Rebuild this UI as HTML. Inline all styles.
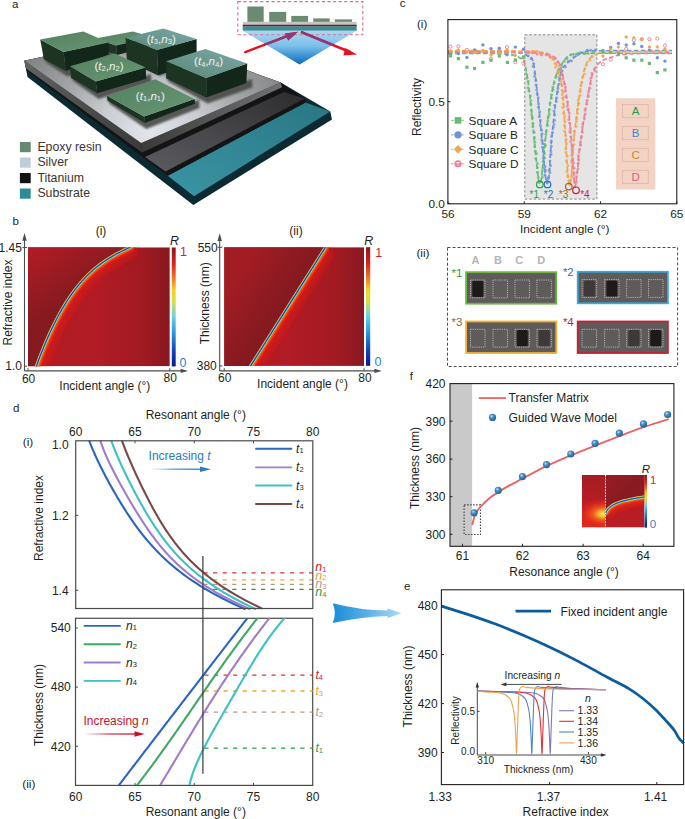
<!DOCTYPE html>
<html><head><meta charset="utf-8"><style>
html,body{margin:0;padding:0;background:#fff;width:685px;height:819px;overflow:hidden}
svg{display:block;font-family:"Liberation Sans",sans-serif}
</style></head><body>
<svg width="685" height="819" viewBox="0 0 685 819">
<defs><radialGradient id="gSilverTop" cx="150" cy="132" r="150" gradientUnits="userSpaceOnUse" gradientTransform="translate(150,132) scale(1.1,0.9) translate(-150,-132)"><stop offset="0" stop-color="#e2e6ea"/><stop offset="0.3" stop-color="#cacdd1"/><stop offset="0.6" stop-color="#a2a3a5"/><stop offset="1" stop-color="#7a7a7b"/></radialGradient><linearGradient id="gSilverSideL" x1="0" y1="0" x2="1" y2="0"><stop offset="0" stop-color="#626262"/><stop offset="1" stop-color="#3a3a3a"/></linearGradient><linearGradient id="gSilverSideR" x1="0" y1="0" x2="1" y2="0"><stop offset="0" stop-color="#3a3a3a"/><stop offset="1" stop-color="#707274"/></linearGradient><linearGradient id="gTiTop" x1="0" y1="1" x2="1" y2="0"><stop offset="0" stop-color="#5c5c60"/><stop offset="0.45" stop-color="#48484c"/><stop offset="1" stop-color="#2c2c2e"/></linearGradient><linearGradient id="gSubTop" x1="0" y1="1" x2="1" y2="0"><stop offset="0" stop-color="#3a95a4"/><stop offset="1" stop-color="#2a7684"/></linearGradient><linearGradient id="gTopGreen" x1="0" y1="0" x2="1" y2="1"><stop offset="0" stop-color="#54805e"/><stop offset="1" stop-color="#679777"/></linearGradient><linearGradient id="gTopTeal" x1="0" y1="1" x2="1" y2="0"><stop offset="0" stop-color="#5a8874"/><stop offset="0.6" stop-color="#6e9a94"/><stop offset="1" stop-color="#80a8a8"/></linearGradient><linearGradient id="gPrism" x1="0" y1="0" x2="0" y2="1"><stop offset="0" stop-color="#a8d8f4"/><stop offset="0.45" stop-color="#7cc0ec"/><stop offset="1" stop-color="#0a6cbc"/></linearGradient><linearGradient id="gArrowBig" x1="0" y1="0" x2="1" y2="0"><stop offset="0" stop-color="#1a8cd8"/><stop offset="0.5" stop-color="#58b0e4"/><stop offset="1" stop-color="#b0dcf4"/></linearGradient><linearGradient id="gArrowT" x1="0" y1="0" x2="1" y2="0"><stop offset="0" stop-color="#2a7ac8" stop-opacity="0"/><stop offset="0.5" stop-color="#2a7ac8" stop-opacity="0.8"/><stop offset="1" stop-color="#2a7ac8"/></linearGradient><linearGradient id="gArrowN" x1="0" y1="0" x2="1" y2="0"><stop offset="0" stop-color="#c8102e" stop-opacity="0"/><stop offset="0.5" stop-color="#c8102e" stop-opacity="0.8"/><stop offset="1" stop-color="#c8102e"/></linearGradient><linearGradient id="gJet" x1="0" y1="1" x2="0" y2="0"><stop offset="0" stop-color="#0a1a8c"/><stop offset="0.12" stop-color="#1040b8"/><stop offset="0.3" stop-color="#30a0e0"/><stop offset="0.42" stop-color="#70d0e0"/><stop offset="0.55" stop-color="#d8e040"/><stop offset="0.64" stop-color="#f8d020"/><stop offset="0.75" stop-color="#f07020"/><stop offset="0.86" stop-color="#e02018"/><stop offset="1" stop-color="#8c1420"/></linearGradient><filter id="blur2" x="-20%" y="-20%" width="140%" height="140%"><feGaussianBlur stdDeviation="2.2"/></filter><filter id="blur4" x="-30%" y="-30%" width="160%" height="160%"><feGaussianBlur stdDeviation="4"/></filter><filter id="blur1" x="-20%" y="-20%" width="140%" height="140%"><feGaussianBlur stdDeviation="0.9"/></filter><radialGradient id="gSphere" cx="0.38" cy="0.35" r="0.7"><stop offset="0" stop-color="#c0e0f8"/><stop offset="0.35" stop-color="#4a90c8"/><stop offset="1" stop-color="#1a5a90"/></radialGradient></defs>
<text x="12.0" y="7.5" font-size="11.5" text-anchor="start" fill="#231f20" >a</text>
<polygon points="24.4,60.7 27.5,77.0 193.3,205.0 332.0,119.4 330.3,111.4 280.6,82.5 147.0,34.3" fill="#0b2a31" />
<polygon points="167.7,175.8 194.0,196.2 330.3,111.4 305.6,102.4" fill="url(#gSubTop)" />
<polygon points="24.4,60.7 26.6,70.4 167.7,175.8 305.6,102.4 304.7,98.5 280.6,82.5 147.0,34.3" fill="#141414" />
<polygon points="145.0,157.0 165.5,171.4 304.7,98.5 284.0,92.0" fill="url(#gTiTop)" />
<polygon points="24.4,60.7 141.2,142.9 142.0,152.6 25.8,68.2" fill="url(#gSilverSideL)" />
<polygon points="141.2,142.9 280.6,82.5 282.0,87.3 142.0,152.6" fill="url(#gSilverSideR)" />
<polygon points="24.4,60.7 147.0,34.3 280.6,82.5 141.2,142.9" fill="url(#gSilverTop)" />
<g filter="url(#blur1)" opacity="0.9">
<polygon points="42.9,56.3 46.4,62.8 67.5,76.5 113.5,58.5 113.0,50.0 66.0,67.0" fill="#4a4a4a" />
<polygon points="70.0,74.7 73.5,81.2 98.7,99.0 151.5,82.5 151.0,74.0 97.2,89.5" fill="#4a4a4a" />
<polygon points="106.5,97.5 110.0,104.0 146.3,129.0 199.5,108.0 199.0,99.5 144.8,119.5" fill="#4a4a4a" />
<polygon points="165.1,75.2 168.6,81.7 207.7,103.5 252.5,87.5 252.0,79.0 206.2,94.0" fill="#4a4a4a" />
<polygon points="126.0,53.5 129.5,60.0 159.9,76.0 201.5,60.5 201.0,52.0 158.4,66.5" fill="#4a4a4a" />
</g>
<polygon points="94.0,38.8 116.0,45.5 117.0,55.0 95.0,47.0" fill="#1c3421" />
<polygon points="116.0,45.5 152.0,37.0 152.0,46.0 117.0,55.0" fill="#13261a" />
<polygon points="94.0,38.8 132.8,31.5 152.0,37.0 116.0,45.5" fill="url(#gTopGreen)" />
<polygon points="40.2,39.6 63.6,52.0 65.8,71.0 43.9,59.3" fill="#1c3421" />
<polygon points="63.6,52.0 108.8,42.5 108.8,54.6 65.8,71.0" fill="#13261a" />
<polygon points="40.2,39.6 83.3,31.6 108.8,42.5 63.6,52.0" fill="url(#gTopGreen)" />
<polygon points="125.5,37.7 157.0,49.9 157.9,75.3 127.0,61.0" fill="#1c3421" />
<polygon points="157.0,49.9 196.6,39.0 196.6,63.0 157.9,75.3" fill="#13261a" />
<polygon points="125.5,37.7 163.5,28.5 196.6,39.0 157.0,49.9" fill="url(#gTopTeal)" />
<polygon points="69.9,66.3 95.8,81.6 97.2,93.3 71.0,77.7" fill="#1c3421" />
<polygon points="95.8,81.6 145.8,67.4 146.1,78.7 97.2,93.3" fill="#13261a" />
<polygon points="69.9,66.3 114.7,53.4 145.8,67.4 95.8,81.6" fill="url(#gTopGreen)" />
<polygon points="166.1,61.3 206.2,77.9 206.2,97.4 166.1,78.2" fill="#1c3421" />
<polygon points="206.2,77.9 247.2,63.4 246.4,83.0 206.2,97.4" fill="#13261a" />
<polygon points="166.1,61.3 205.4,49.0 247.2,63.4 206.2,77.9" fill="url(#gTopTeal)" />
<polygon points="107.0,95.7 144.0,116.6 144.8,123.0 107.5,100.5" fill="#1c3421" />
<polygon points="144.0,116.6 194.6,98.9 194.9,103.7 144.8,123.0" fill="#13261a" />
<polygon points="107.0,95.7 155.2,79.2 194.6,98.9 144.0,116.6" fill="url(#gTopGreen)" />
<text x="109" y="70" font-size="11.6" text-anchor="middle" fill="#eef2ee">(<tspan font-style="italic">t</tspan><tspan font-size="7.6" dy="1.2">2</tspan><tspan dy="-1.2">,</tspan><tspan font-style="italic">n</tspan><tspan font-size="7.6" dy="1.2">2</tspan><tspan dy="-1.2">)</tspan></text>
<text x="161.3" y="43" font-size="11.6" text-anchor="middle" fill="#eef2ee">(<tspan font-style="italic">t</tspan><tspan font-size="7.6" dy="1.2">3</tspan><tspan dy="-1.2">,</tspan><tspan font-style="italic">n</tspan><tspan font-size="7.6" dy="1.2">3</tspan><tspan dy="-1.2">)</tspan></text>
<text x="208.6" y="65.3" font-size="11.6" text-anchor="middle" fill="#eef2ee">(<tspan font-style="italic">t</tspan><tspan font-size="7.6" dy="1.2">4</tspan><tspan dy="-1.2">,</tspan><tspan font-style="italic">n</tspan><tspan font-size="7.6" dy="1.2">4</tspan><tspan dy="-1.2">)</tspan></text>
<text x="150.4" y="99.7" font-size="11.6" text-anchor="middle" fill="#eef2ee">(<tspan font-style="italic">t</tspan><tspan font-size="7.6" dy="1.2">1</tspan><tspan dy="-1.2">,</tspan><tspan font-style="italic">n</tspan><tspan font-size="7.6" dy="1.2">1</tspan><tspan dy="-1.2">)</tspan></text>
<rect x="19.90" y="142.00" width="10.80" height="10.20" fill="#678a74" stroke="none" stroke-width="1" />
<text x="37.4" y="150.6" font-size="12.3" text-anchor="start" fill="#3a3434" >Epoxy resin</text>
<rect x="19.90" y="157.50" width="10.80" height="10.20" fill="#c0ccd8" stroke="none" stroke-width="1" />
<text x="37.4" y="166.1" font-size="12.3" text-anchor="start" fill="#3a3434" >Silver</text>
<rect x="19.90" y="173.00" width="10.80" height="10.20" fill="#121212" stroke="none" stroke-width="1" />
<text x="37.4" y="181.6" font-size="12.3" text-anchor="start" fill="#3a3434" >Titanium</text>
<rect x="19.90" y="188.50" width="10.80" height="10.20" fill="#2e8a96" stroke="none" stroke-width="1" />
<text x="37.4" y="197.1" font-size="12.3" text-anchor="start" fill="#3a3434" >Substrate</text>
<polygon points="242.7,30.7 356.7,30.7 299.5,64.4" fill="url(#gPrism)" />
<rect x="247.40" y="6.50" width="16.30" height="15.40" fill="#6a8a72" stroke="none" stroke-width="1" />
<rect x="269.20" y="11.90" width="17.00" height="10.00" fill="#6a8a72" stroke="none" stroke-width="1" />
<rect x="291.30" y="15.90" width="16.80" height="6.00" fill="#6a8a72" stroke="none" stroke-width="1" />
<rect x="313.20" y="18.40" width="16.50" height="3.50" fill="#6a8a72" stroke="none" stroke-width="1" />
<rect x="334.80" y="19.40" width="17.20" height="2.50" fill="#6a8a72" stroke="none" stroke-width="1" />
<rect x="242.70" y="21.90" width="114.00" height="2.80" fill="#c4c4c4" stroke="none" stroke-width="1" />
<rect x="242.70" y="24.70" width="114.00" height="1.90" fill="#4a2a22" stroke="none" stroke-width="1" />
<rect x="242.70" y="26.60" width="114.00" height="4.10" fill="#3a8c9c" stroke="none" stroke-width="1" />
<rect x="237.80" y="1.60" width="125.00" height="33.10" fill="none" stroke="#e07080" stroke-width="1.1" stroke-dasharray="3.2,2.4"/>
<g stroke="#e8101e" stroke-width="2.5" fill="none" stroke-linecap="round" opacity="1">
<path d="M245.3,52.1 L291,34.6"/><path d="M302,32.4 L350,52"/>
</g>
<polygon points="298.0,31.8 285.0,33.6 288.2,40.4" fill="#e8101e" opacity="1"/>
<polygon points="357.0,54.6 345.2,48.0 343.4,55.4" fill="#e8101e" opacity="1"/>
<clipPath id="clipPrism"><polygon points="242.7,30.7 356.7,30.7 299.5,64.4"/></clipPath>
<g clip-path="url(#clipPrism)">
<g stroke="#8c3a78" stroke-width="2.5" fill="none" stroke-linecap="round" opacity="0.95">
<path d="M245.3,52.1 L291,34.6"/><path d="M302,32.4 L350,52"/>
</g>
<polygon points="298.0,31.8 285.0,33.6 288.2,40.4" fill="#8c3a78" opacity="0.95"/>
<polygon points="357.0,54.6 345.2,48.0 343.4,55.4" fill="#8c3a78" opacity="0.95"/>
</g>
<text x="12.4" y="224.7" font-size="11.5" text-anchor="start" fill="#231f20" >b</text>
<clipPath id="clipbi"><rect x="28" y="247.3" width="141.8" height="119.0"/></clipPath>
<linearGradient id="gBasebi" x1="0" y1="0" x2="1" y2="0"><stop offset="0" stop-color="#b41c24"/><stop offset="0.45" stop-color="#b21c26"/><stop offset="0.8" stop-color="#a21a22"/><stop offset="1" stop-color="#881820"/></linearGradient>
<linearGradient id="gLeftbi" gradientUnits="userSpaceOnUse" x1="28" y1="247" x2="64" y2="302"><stop offset="0" stop-color="#b41c24"/><stop offset="1" stop-color="#861a20"/></linearGradient>
<clipPath id="clipRbi"><path d="M35.60,368.26 L36.83,364.85 L38.05,361.52 L39.28,358.26 L40.51,355.06 L41.73,351.94 L42.96,348.88 L44.19,345.88 L45.41,342.95 L46.64,340.09 L47.87,337.28 L49.09,334.54 L50.32,331.87 L51.55,329.25 L52.77,326.69 L54.00,324.19 L55.23,321.75 L56.45,319.36 L57.68,317.03 L58.91,314.76 L60.13,312.54 L61.36,310.38 L62.58,308.26 L63.81,306.20 L65.04,304.19 L66.26,302.23 L67.49,300.32 L68.72,298.46 L69.94,296.64 L71.17,294.87 L72.40,293.15 L73.62,291.47 L74.85,289.83 L76.08,288.24 L77.30,286.69 L78.53,285.18 L79.76,283.71 L80.98,282.28 L82.21,280.89 L83.44,279.53 L84.66,278.22 L85.89,276.94 L87.12,275.69 L88.34,274.48 L89.57,273.30 L90.80,272.15 L92.02,271.03 L93.25,269.95 L94.48,268.89 L95.70,267.87 L96.93,266.87 L98.16,265.90 L99.38,264.95 L100.61,264.03 L101.84,263.13 L103.06,262.26 L104.29,261.41 L105.52,260.58 L106.74,259.77 L107.97,258.98 L109.19,258.21 L110.42,257.46 L111.65,256.73 L112.87,256.01 L114.10,255.31 L115.33,254.62 L116.55,253.95 L117.78,253.29 L119.01,252.64 L120.23,252.00 L121.46,251.37 L122.69,250.75 L123.91,250.14 L125.14,249.54 L126.37,248.95 L127.59,248.36 L128.82,247.77 L130.05,247.19 L131.27,246.61 L132.50,246.04 L132.5,239.3 L177.8,239.3 L177.8,374.3 L35.6,374.3 Z"/></clipPath>
<g clip-path="url(#clipbi)">
<rect x="28.00" y="247.30" width="141.80" height="119.00" fill="url(#gBasebi)" stroke="none" stroke-width="1" />
<g clip-path="url(#clipRbi)">
<path d="M35.60,368.26 L36.83,364.85 L38.05,361.52 L39.28,358.26 L40.51,355.06 L41.73,351.94 L42.96,348.88 L44.19,345.88 L45.41,342.95 L46.64,340.09 L47.87,337.28 L49.09,334.54 L50.32,331.87 L51.55,329.25 L52.77,326.69 L54.00,324.19 L55.23,321.75 L56.45,319.36 L57.68,317.03 L58.91,314.76 L60.13,312.54 L61.36,310.38 L62.58,308.26 L63.81,306.20 L65.04,304.19 L66.26,302.23 L67.49,300.32 L68.72,298.46 L69.94,296.64 L71.17,294.87 L72.40,293.15 L73.62,291.47 L74.85,289.83 L76.08,288.24 L77.30,286.69 L78.53,285.18 L79.76,283.71 L80.98,282.28 L82.21,280.89 L83.44,279.53 L84.66,278.22 L85.89,276.94 L87.12,275.69 L88.34,274.48 L89.57,273.30 L90.80,272.15 L92.02,271.03 L93.25,269.95 L94.48,268.89 L95.70,267.87 L96.93,266.87 L98.16,265.90 L99.38,264.95 L100.61,264.03 L101.84,263.13 L103.06,262.26 L104.29,261.41 L105.52,260.58 L106.74,259.77 L107.97,258.98 L109.19,258.21 L110.42,257.46 L111.65,256.73 L112.87,256.01 L114.10,255.31 L115.33,254.62 L116.55,253.95 L117.78,253.29 L119.01,252.64 L120.23,252.00 L121.46,251.37 L122.69,250.75 L123.91,250.14 L125.14,249.54 L126.37,248.95 L127.59,248.36 L128.82,247.77 L130.05,247.19 L131.27,246.61 L132.50,246.04" stroke="#dc1a18" stroke-width="18" fill="none" filter="url(#blur4)" opacity="0.85"/>
<path d="M35.60,368.26 L36.83,364.85 L38.05,361.52 L39.28,358.26 L40.51,355.06 L41.73,351.94 L42.96,348.88 L44.19,345.88 L45.41,342.95 L46.64,340.09 L47.87,337.28 L49.09,334.54 L50.32,331.87 L51.55,329.25 L52.77,326.69 L54.00,324.19 L55.23,321.75 L56.45,319.36 L57.68,317.03 L58.91,314.76 L60.13,312.54 L61.36,310.38 L62.58,308.26 L63.81,306.20 L65.04,304.19 L66.26,302.23 L67.49,300.32 L68.72,298.46 L69.94,296.64 L71.17,294.87 L72.40,293.15 L73.62,291.47 L74.85,289.83 L76.08,288.24 L77.30,286.69 L78.53,285.18 L79.76,283.71 L80.98,282.28 L82.21,280.89 L83.44,279.53 L84.66,278.22 L85.89,276.94 L87.12,275.69 L88.34,274.48 L89.57,273.30 L90.80,272.15 L92.02,271.03 L93.25,269.95 L94.48,268.89 L95.70,267.87 L96.93,266.87 L98.16,265.90 L99.38,264.95 L100.61,264.03 L101.84,263.13 L103.06,262.26 L104.29,261.41 L105.52,260.58 L106.74,259.77 L107.97,258.98 L109.19,258.21 L110.42,257.46 L111.65,256.73 L112.87,256.01 L114.10,255.31 L115.33,254.62 L116.55,253.95 L117.78,253.29 L119.01,252.64 L120.23,252.00 L121.46,251.37 L122.69,250.75 L123.91,250.14 L125.14,249.54 L126.37,248.95 L127.59,248.36 L128.82,247.77 L130.05,247.19 L131.27,246.61 L132.50,246.04" stroke="#e61e16" stroke-width="8" fill="none" filter="url(#blur2)"/>
<path d="M35.60,368.26 L36.83,364.85 L38.05,361.52 L39.28,358.26 L40.51,355.06 L41.73,351.94 L42.96,348.88 L44.19,345.88 L45.41,342.95 L46.64,340.09 L47.87,337.28 L49.09,334.54 L50.32,331.87 L51.55,329.25 L52.77,326.69 L54.00,324.19 L55.23,321.75 L56.45,319.36 L57.68,317.03 L58.91,314.76 L60.13,312.54 L61.36,310.38 L62.58,308.26 L63.81,306.20 L65.04,304.19 L66.26,302.23 L67.49,300.32 L68.72,298.46 L69.94,296.64 L71.17,294.87 L72.40,293.15 L73.62,291.47 L74.85,289.83 L76.08,288.24 L77.30,286.69 L78.53,285.18 L79.76,283.71 L80.98,282.28 L82.21,280.89 L83.44,279.53 L84.66,278.22 L85.89,276.94 L87.12,275.69 L88.34,274.48 L89.57,273.30 L90.80,272.15 L92.02,271.03 L93.25,269.95 L94.48,268.89 L95.70,267.87 L96.93,266.87 L98.16,265.90 L99.38,264.95 L100.61,264.03 L101.84,263.13 L103.06,262.26 L104.29,261.41 L105.52,260.58 L106.74,259.77 L107.97,258.98 L109.19,258.21 L110.42,257.46 L111.65,256.73 L112.87,256.01 L114.10,255.31 L115.33,254.62 L116.55,253.95 L117.78,253.29 L119.01,252.64 L120.23,252.00 L121.46,251.37 L122.69,250.75 L123.91,250.14 L125.14,249.54 L126.37,248.95 L127.59,248.36 L128.82,247.77 L130.05,247.19 L131.27,246.61 L132.50,246.04" stroke="#f04a1a" stroke-width="5" fill="none" filter="url(#blur1)"/>
<path d="M35.60,368.26 L36.83,364.85 L38.05,361.52 L39.28,358.26 L40.51,355.06 L41.73,351.94 L42.96,348.88 L44.19,345.88 L45.41,342.95 L46.64,340.09 L47.87,337.28 L49.09,334.54 L50.32,331.87 L51.55,329.25 L52.77,326.69 L54.00,324.19 L55.23,321.75 L56.45,319.36 L57.68,317.03 L58.91,314.76 L60.13,312.54 L61.36,310.38 L62.58,308.26 L63.81,306.20 L65.04,304.19 L66.26,302.23 L67.49,300.32 L68.72,298.46 L69.94,296.64 L71.17,294.87 L72.40,293.15 L73.62,291.47 L74.85,289.83 L76.08,288.24 L77.30,286.69 L78.53,285.18 L79.76,283.71 L80.98,282.28 L82.21,280.89 L83.44,279.53 L84.66,278.22 L85.89,276.94 L87.12,275.69 L88.34,274.48 L89.57,273.30 L90.80,272.15 L92.02,271.03 L93.25,269.95 L94.48,268.89 L95.70,267.87 L96.93,266.87 L98.16,265.90 L99.38,264.95 L100.61,264.03 L101.84,263.13 L103.06,262.26 L104.29,261.41 L105.52,260.58 L106.74,259.77 L107.97,258.98 L109.19,258.21 L110.42,257.46 L111.65,256.73 L112.87,256.01 L114.10,255.31 L115.33,254.62 L116.55,253.95 L117.78,253.29 L119.01,252.64 L120.23,252.00 L121.46,251.37 L122.69,250.75 L123.91,250.14 L125.14,249.54 L126.37,248.95 L127.59,248.36 L128.82,247.77 L130.05,247.19 L131.27,246.61 L132.50,246.04" stroke="#f0b030" stroke-width="3.8" fill="none" filter="url(#blur1)"/>
</g>
<path d="M35.60,368.26 L36.83,364.85 L38.05,361.52 L39.28,358.26 L40.51,355.06 L41.73,351.94 L42.96,348.88 L44.19,345.88 L45.41,342.95 L46.64,340.09 L47.87,337.28 L49.09,334.54 L50.32,331.87 L51.55,329.25 L52.77,326.69 L54.00,324.19 L55.23,321.75 L56.45,319.36 L57.68,317.03 L58.91,314.76 L60.13,312.54 L61.36,310.38 L62.58,308.26 L63.81,306.20 L65.04,304.19 L66.26,302.23 L67.49,300.32 L68.72,298.46 L69.94,296.64 L71.17,294.87 L72.40,293.15 L73.62,291.47 L74.85,289.83 L76.08,288.24 L77.30,286.69 L78.53,285.18 L79.76,283.71 L80.98,282.28 L82.21,280.89 L83.44,279.53 L84.66,278.22 L85.89,276.94 L87.12,275.69 L88.34,274.48 L89.57,273.30 L90.80,272.15 L92.02,271.03 L93.25,269.95 L94.48,268.89 L95.70,267.87 L96.93,266.87 L98.16,265.90 L99.38,264.95 L100.61,264.03 L101.84,263.13 L103.06,262.26 L104.29,261.41 L105.52,260.58 L106.74,259.77 L107.97,258.98 L109.19,258.21 L110.42,257.46 L111.65,256.73 L112.87,256.01 L114.10,255.31 L115.33,254.62 L116.55,253.95 L117.78,253.29 L119.01,252.64 L120.23,252.00 L121.46,251.37 L122.69,250.75 L123.91,250.14 L125.14,249.54 L126.37,248.95 L127.59,248.36 L128.82,247.77 L130.05,247.19 L131.27,246.61 L132.50,246.04 L132.5,239.3 L20,239.3 L20,374.3 L35.6,374.3 Z" fill="url(#gLeftbi)"/>
<path d="M35.60,368.26 L36.83,364.85 L38.05,361.52 L39.28,358.26 L40.51,355.06 L41.73,351.94 L42.96,348.88 L44.19,345.88 L45.41,342.95 L46.64,340.09 L47.87,337.28 L49.09,334.54 L50.32,331.87 L51.55,329.25 L52.77,326.69 L54.00,324.19 L55.23,321.75 L56.45,319.36 L57.68,317.03 L58.91,314.76 L60.13,312.54 L61.36,310.38 L62.58,308.26 L63.81,306.20 L65.04,304.19 L66.26,302.23 L67.49,300.32 L68.72,298.46 L69.94,296.64 L71.17,294.87 L72.40,293.15 L73.62,291.47 L74.85,289.83 L76.08,288.24 L77.30,286.69 L78.53,285.18 L79.76,283.71 L80.98,282.28 L82.21,280.89 L83.44,279.53 L84.66,278.22 L85.89,276.94 L87.12,275.69 L88.34,274.48 L89.57,273.30 L90.80,272.15 L92.02,271.03 L93.25,269.95 L94.48,268.89 L95.70,267.87 L96.93,266.87 L98.16,265.90 L99.38,264.95 L100.61,264.03 L101.84,263.13 L103.06,262.26 L104.29,261.41 L105.52,260.58 L106.74,259.77 L107.97,258.98 L109.19,258.21 L110.42,257.46 L111.65,256.73 L112.87,256.01 L114.10,255.31 L115.33,254.62 L116.55,253.95 L117.78,253.29 L119.01,252.64 L120.23,252.00 L121.46,251.37 L122.69,250.75 L123.91,250.14 L125.14,249.54 L126.37,248.95 L127.59,248.36 L128.82,247.77 L130.05,247.19 L131.27,246.61 L132.50,246.04" stroke="#e83818" stroke-width="3.6" fill="none" transform="translate(0.1,0)"/>
<path d="M35.60,368.26 L36.83,364.85 L38.05,361.52 L39.28,358.26 L40.51,355.06 L41.73,351.94 L42.96,348.88 L44.19,345.88 L45.41,342.95 L46.64,340.09 L47.87,337.28 L49.09,334.54 L50.32,331.87 L51.55,329.25 L52.77,326.69 L54.00,324.19 L55.23,321.75 L56.45,319.36 L57.68,317.03 L58.91,314.76 L60.13,312.54 L61.36,310.38 L62.58,308.26 L63.81,306.20 L65.04,304.19 L66.26,302.23 L67.49,300.32 L68.72,298.46 L69.94,296.64 L71.17,294.87 L72.40,293.15 L73.62,291.47 L74.85,289.83 L76.08,288.24 L77.30,286.69 L78.53,285.18 L79.76,283.71 L80.98,282.28 L82.21,280.89 L83.44,279.53 L84.66,278.22 L85.89,276.94 L87.12,275.69 L88.34,274.48 L89.57,273.30 L90.80,272.15 L92.02,271.03 L93.25,269.95 L94.48,268.89 L95.70,267.87 L96.93,266.87 L98.16,265.90 L99.38,264.95 L100.61,264.03 L101.84,263.13 L103.06,262.26 L104.29,261.41 L105.52,260.58 L106.74,259.77 L107.97,258.98 L109.19,258.21 L110.42,257.46 L111.65,256.73 L112.87,256.01 L114.10,255.31 L115.33,254.62 L116.55,253.95 L117.78,253.29 L119.01,252.64 L120.23,252.00 L121.46,251.37 L122.69,250.75 L123.91,250.14 L125.14,249.54 L126.37,248.95 L127.59,248.36 L128.82,247.77 L130.05,247.19 L131.27,246.61 L132.50,246.04" stroke="#f0a020" stroke-width="3.0" fill="none" transform="translate(0.1,0)"/>
<path d="M35.60,368.26 L36.83,364.85 L38.05,361.52 L39.28,358.26 L40.51,355.06 L41.73,351.94 L42.96,348.88 L44.19,345.88 L45.41,342.95 L46.64,340.09 L47.87,337.28 L49.09,334.54 L50.32,331.87 L51.55,329.25 L52.77,326.69 L54.00,324.19 L55.23,321.75 L56.45,319.36 L57.68,317.03 L58.91,314.76 L60.13,312.54 L61.36,310.38 L62.58,308.26 L63.81,306.20 L65.04,304.19 L66.26,302.23 L67.49,300.32 L68.72,298.46 L69.94,296.64 L71.17,294.87 L72.40,293.15 L73.62,291.47 L74.85,289.83 L76.08,288.24 L77.30,286.69 L78.53,285.18 L79.76,283.71 L80.98,282.28 L82.21,280.89 L83.44,279.53 L84.66,278.22 L85.89,276.94 L87.12,275.69 L88.34,274.48 L89.57,273.30 L90.80,272.15 L92.02,271.03 L93.25,269.95 L94.48,268.89 L95.70,267.87 L96.93,266.87 L98.16,265.90 L99.38,264.95 L100.61,264.03 L101.84,263.13 L103.06,262.26 L104.29,261.41 L105.52,260.58 L106.74,259.77 L107.97,258.98 L109.19,258.21 L110.42,257.46 L111.65,256.73 L112.87,256.01 L114.10,255.31 L115.33,254.62 L116.55,253.95 L117.78,253.29 L119.01,252.64 L120.23,252.00 L121.46,251.37 L122.69,250.75 L123.91,250.14 L125.14,249.54 L126.37,248.95 L127.59,248.36 L128.82,247.77 L130.05,247.19 L131.27,246.61 L132.50,246.04" stroke="#e8e040" stroke-width="2.5" fill="none" transform="translate(0.08,0)"/>
<path d="M35.60,368.26 L36.83,364.85 L38.05,361.52 L39.28,358.26 L40.51,355.06 L41.73,351.94 L42.96,348.88 L44.19,345.88 L45.41,342.95 L46.64,340.09 L47.87,337.28 L49.09,334.54 L50.32,331.87 L51.55,329.25 L52.77,326.69 L54.00,324.19 L55.23,321.75 L56.45,319.36 L57.68,317.03 L58.91,314.76 L60.13,312.54 L61.36,310.38 L62.58,308.26 L63.81,306.20 L65.04,304.19 L66.26,302.23 L67.49,300.32 L68.72,298.46 L69.94,296.64 L71.17,294.87 L72.40,293.15 L73.62,291.47 L74.85,289.83 L76.08,288.24 L77.30,286.69 L78.53,285.18 L79.76,283.71 L80.98,282.28 L82.21,280.89 L83.44,279.53 L84.66,278.22 L85.89,276.94 L87.12,275.69 L88.34,274.48 L89.57,273.30 L90.80,272.15 L92.02,271.03 L93.25,269.95 L94.48,268.89 L95.70,267.87 L96.93,266.87 L98.16,265.90 L99.38,264.95 L100.61,264.03 L101.84,263.13 L103.06,262.26 L104.29,261.41 L105.52,260.58 L106.74,259.77 L107.97,258.98 L109.19,258.21 L110.42,257.46 L111.65,256.73 L112.87,256.01 L114.10,255.31 L115.33,254.62 L116.55,253.95 L117.78,253.29 L119.01,252.64 L120.23,252.00 L121.46,251.37 L122.69,250.75 L123.91,250.14 L125.14,249.54 L126.37,248.95 L127.59,248.36 L128.82,247.77 L130.05,247.19 L131.27,246.61 L132.50,246.04" stroke="#50c0e0" stroke-width="1.9" fill="none" transform="translate(0.05,0)"/>
<path d="M35.60,368.26 L36.83,364.85 L38.05,361.52 L39.28,358.26 L40.51,355.06 L41.73,351.94 L42.96,348.88 L44.19,345.88 L45.41,342.95 L46.64,340.09 L47.87,337.28 L49.09,334.54 L50.32,331.87 L51.55,329.25 L52.77,326.69 L54.00,324.19 L55.23,321.75 L56.45,319.36 L57.68,317.03 L58.91,314.76 L60.13,312.54 L61.36,310.38 L62.58,308.26 L63.81,306.20 L65.04,304.19 L66.26,302.23 L67.49,300.32 L68.72,298.46 L69.94,296.64 L71.17,294.87 L72.40,293.15 L73.62,291.47 L74.85,289.83 L76.08,288.24 L77.30,286.69 L78.53,285.18 L79.76,283.71 L80.98,282.28 L82.21,280.89 L83.44,279.53 L84.66,278.22 L85.89,276.94 L87.12,275.69 L88.34,274.48 L89.57,273.30 L90.80,272.15 L92.02,271.03 L93.25,269.95 L94.48,268.89 L95.70,267.87 L96.93,266.87 L98.16,265.90 L99.38,264.95 L100.61,264.03 L101.84,263.13 L103.06,262.26 L104.29,261.41 L105.52,260.58 L106.74,259.77 L107.97,258.98 L109.19,258.21 L110.42,257.46 L111.65,256.73 L112.87,256.01 L114.10,255.31 L115.33,254.62 L116.55,253.95 L117.78,253.29 L119.01,252.64 L120.23,252.00 L121.46,251.37 L122.69,250.75 L123.91,250.14 L125.14,249.54 L126.37,248.95 L127.59,248.36 L128.82,247.77 L130.05,247.19 L131.27,246.61 L132.50,246.04" stroke="#1048a8" stroke-width="1.1" fill="none" transform="translate(0,0)"/>
</g>
<clipPath id="clipbii"><rect x="224.2" y="247.2" width="139.8" height="118.69999999999999"/></clipPath>
<linearGradient id="gBasebii" x1="0" y1="0" x2="1" y2="0"><stop offset="0" stop-color="#b41c24"/><stop offset="0.45" stop-color="#b21c26"/><stop offset="0.8" stop-color="#a21a22"/><stop offset="1" stop-color="#881820"/></linearGradient>
<linearGradient id="gLeftbii" gradientUnits="userSpaceOnUse" x1="226" y1="296" x2="266" y2="322"><stop offset="0" stop-color="#a21c24"/><stop offset="1" stop-color="#861a20"/></linearGradient>
<clipPath id="clipRbii"><path d="M250.20,366.50 C262.80,346.53 313.20,266.67 325.80,246.70 L325.8,239.2 L372.0,239.2 L372.0,373.9 L250.2,373.9 Z"/></clipPath>
<g clip-path="url(#clipbii)">
<rect x="224.20" y="247.20" width="139.80" height="118.70" fill="url(#gBasebii)" stroke="none" stroke-width="1" />
<g clip-path="url(#clipRbii)">
<path d="M250.20,366.50 C262.80,346.53 313.20,266.67 325.80,246.70" stroke="#dc1a18" stroke-width="18" fill="none" filter="url(#blur4)" opacity="0.85"/>
<path d="M250.20,366.50 C262.80,346.53 313.20,266.67 325.80,246.70" stroke="#e61e16" stroke-width="8" fill="none" filter="url(#blur2)"/>
<path d="M250.20,366.50 C262.80,346.53 313.20,266.67 325.80,246.70" stroke="#f04a1a" stroke-width="5" fill="none" filter="url(#blur1)"/>
<path d="M250.20,366.50 C262.80,346.53 313.20,266.67 325.80,246.70" stroke="#f0b030" stroke-width="3.8" fill="none" filter="url(#blur1)"/>
</g>
<path d="M250.20,366.50 C262.80,346.53 313.20,266.67 325.80,246.70 L325.8,239.2 L216.2,239.2 L216.2,373.9 L250.2,373.9 Z" fill="url(#gLeftbii)"/>
<path d="M250.20,366.50 C262.80,346.53 313.20,266.67 325.80,246.70" stroke="#e83818" stroke-width="3.6" fill="none" transform="translate(0.1,0)"/>
<path d="M250.20,366.50 C262.80,346.53 313.20,266.67 325.80,246.70" stroke="#f0a020" stroke-width="3.0" fill="none" transform="translate(0.1,0)"/>
<path d="M250.20,366.50 C262.80,346.53 313.20,266.67 325.80,246.70" stroke="#e8e040" stroke-width="2.5" fill="none" transform="translate(0.08,0)"/>
<path d="M250.20,366.50 C262.80,346.53 313.20,266.67 325.80,246.70" stroke="#50c0e0" stroke-width="1.9" fill="none" transform="translate(0.05,0)"/>
<path d="M250.20,366.50 C262.80,346.53 313.20,266.67 325.80,246.70" stroke="#1048a8" stroke-width="1.1" fill="none" transform="translate(0,0)"/>
</g>
<rect x="171.80" y="247.50" width="3.90" height="118.90" fill="url(#gJet)" stroke="none" stroke-width="1" />
<rect x="366.00" y="247.20" width="4.20" height="118.60" fill="url(#gJet)" stroke="none" stroke-width="1" />
<line x1="24.50" y1="371.00" x2="24.50" y2="239.00" stroke="#4d4d4f" stroke-width="1.1" />
<polygon points="24.5,233.0 22.3,240.8 26.7,240.8" fill="#4d4d4f" />
<line x1="24.50" y1="370.90" x2="182.00" y2="370.90" stroke="#4d4d4f" stroke-width="1.1" />
<polygon points="188.0,370.9 180.6,368.8 180.6,373.0" fill="#4d4d4f" />
<line x1="22.50" y1="247.50" x2="27.00" y2="247.50" stroke="#4d4d4f" stroke-width="1" />
<line x1="24.50" y1="366.20" x2="27.00" y2="366.20" stroke="#4d4d4f" stroke-width="1" />
<line x1="28.00" y1="368.20" x2="28.00" y2="370.90" stroke="#4d4d4f" stroke-width="1" />
<line x1="169.80" y1="368.20" x2="169.80" y2="370.90" stroke="#4d4d4f" stroke-width="1" />
<text x="21.9" y="252.4" font-size="12" text-anchor="end" fill="#231f20" >1.45</text>
<text x="21.9" y="370.1" font-size="12" text-anchor="end" fill="#231f20" >1.0</text>
<text x="28.6" y="382.5" font-size="12" text-anchor="middle" fill="#231f20" >60</text>
<text x="170.3" y="382.2" font-size="12" text-anchor="middle" fill="#231f20" >80</text>
<text x="104.8" y="389.6" font-size="12" text-anchor="middle" fill="#231f20" >Incident angle (°)</text>
<text x="0" y="0" transform="translate(12.3,302.5) rotate(-90)" font-size="12" text-anchor="middle" fill="#231f20" >Refractive index</text>
<text x="101.0" y="235.4" font-size="12" text-anchor="middle" fill="#231f20" >(i)</text>
<text x="170.0" y="244.6" font-size="12.5" text-anchor="start" fill="#231f20" font-style="italic">R</text>
<text x="180.0" y="255.6" font-size="12.5" text-anchor="start" fill="#d01f32" >1</text>
<text x="179.6" y="366.6" font-size="12.5" text-anchor="start" fill="#2a84d0" >0</text>
<line x1="219.70" y1="371.00" x2="219.70" y2="239.00" stroke="#4d4d4f" stroke-width="1.1" />
<polygon points="219.7,233.3 217.5,241.0 221.9,241.0" fill="#4d4d4f" />
<line x1="219.70" y1="370.90" x2="376.00" y2="370.90" stroke="#4d4d4f" stroke-width="1.1" />
<polygon points="381.8,370.9 374.4,368.8 374.4,373.0" fill="#4d4d4f" />
<line x1="217.70" y1="247.30" x2="222.30" y2="247.30" stroke="#4d4d4f" stroke-width="1" />
<line x1="219.70" y1="365.90" x2="222.30" y2="365.90" stroke="#4d4d4f" stroke-width="1" />
<line x1="224.20" y1="368.20" x2="224.20" y2="370.90" stroke="#4d4d4f" stroke-width="1" />
<line x1="364.00" y1="368.20" x2="364.00" y2="370.90" stroke="#4d4d4f" stroke-width="1" />
<text x="217.7" y="252.3" font-size="12" text-anchor="end" fill="#231f20" >550</text>
<text x="216.8" y="370.2" font-size="12" text-anchor="end" fill="#231f20" >380</text>
<text x="224.8" y="382.4" font-size="12" text-anchor="middle" fill="#231f20" >60</text>
<text x="364.9" y="382.4" font-size="12" text-anchor="middle" fill="#231f20" >80</text>
<text x="302.5" y="387.6" font-size="12" text-anchor="middle" fill="#231f20" >Incident angle (°)</text>
<text x="0" y="0" transform="translate(209.2,303.3) rotate(-90)" font-size="12" text-anchor="middle" fill="#231f20" >Thickness (nm)</text>
<text x="296.0" y="235.4" font-size="12" text-anchor="middle" fill="#231f20" >(ii)</text>
<text x="364.2" y="244.5" font-size="12.5" text-anchor="start" fill="#231f20" font-style="italic">R</text>
<text x="375.2" y="257.0" font-size="12.5" text-anchor="start" fill="#d01f32" >1</text>
<text x="374.6" y="365.8" font-size="12.5" text-anchor="start" fill="#2a84d0" >0</text>
<text x="399.7" y="6.8" font-size="11.5" text-anchor="start" fill="#231f20" >c</text>
<text x="417.0" y="28.2" font-size="11.5" text-anchor="start" fill="#231f20" >(i)</text>
<rect x="524.80" y="34.80" width="72.10" height="164.30" fill="#e5e5e5" stroke="#7a7a7a" stroke-width="0.9" stroke-dasharray="2.6,1.9"/>
<rect x="616.00" y="98.30" width="39.30" height="91.30" fill="#f3d3c4" stroke="none" stroke-width="1" />
<rect x="622.30" y="104.40" width="25.90" height="13.40" fill="none" stroke="#dcaaa0" stroke-width="0.6" />
<text x="635.6" y="115.0" font-size="11.5" text-anchor="middle" fill="#1f9a45" >A</text>
<rect x="622.30" y="126.40" width="25.90" height="13.40" fill="none" stroke="#dcaaa0" stroke-width="0.6" />
<text x="635.6" y="137.0" font-size="11.5" text-anchor="middle" fill="#3a86c8" >B</text>
<rect x="622.30" y="148.20" width="25.90" height="13.40" fill="none" stroke="#dcaaa0" stroke-width="0.6" />
<text x="635.6" y="158.8" font-size="11.5" text-anchor="middle" fill="#b8902e" >C</text>
<rect x="622.30" y="170.20" width="25.90" height="13.40" fill="none" stroke="#dcaaa0" stroke-width="0.6" />
<text x="635.6" y="180.8" font-size="11.5" text-anchor="middle" fill="#e2607e" >D</text>
<path d="M448.00,53.30 C455.00,53.33 479.67,53.30 490.00,53.50 C500.33,53.70 505.00,53.75 510.00,54.50 C515.00,55.25 517.60,56.58 520.00,58.00 C522.40,59.42 522.93,58.15 524.40,63.00 C525.87,67.85 527.33,76.13 528.80,87.10 C530.27,98.07 531.73,114.52 533.20,128.80 C534.67,143.08 536.53,163.73 537.60,172.80 C538.67,181.87 538.95,182.33 539.60,183.20 C540.25,184.07 540.73,183.40 541.50,178.00 C542.27,172.60 543.02,161.55 544.20,150.80 C545.38,140.05 546.78,125.58 548.60,113.50 C550.42,101.42 552.55,87.10 555.10,78.30 C557.65,69.50 560.97,64.72 563.90,60.70 C566.83,56.68 568.35,55.43 572.70,54.20 C577.05,52.97 573.45,53.45 590.00,53.30 C606.55,53.15 658.33,53.30 672.00,53.30" stroke="#66bb77" stroke-width="1.7" fill="none" stroke-dasharray="4.6,2.4"/>
<path d="M448.00,51.60 C456.67,51.63 488.00,51.57 500.00,51.80 C512.00,52.03 515.33,52.30 520.00,53.00 C524.67,53.70 525.80,54.50 528.00,56.00 C530.20,57.50 531.60,55.35 533.20,62.00 C534.80,68.65 536.13,82.93 537.60,95.90 C539.07,108.87 540.68,126.45 542.00,139.80 C543.32,153.15 544.57,168.72 545.50,176.00 C546.43,183.28 546.93,184.17 547.60,183.50 C548.27,182.83 548.98,177.58 549.50,172.00 C550.02,166.42 549.77,160.85 550.70,150.00 C551.63,139.15 553.45,119.58 555.10,106.90 C556.75,94.22 558.77,81.02 560.60,73.90 C562.43,66.78 563.35,67.28 566.10,64.20 C568.85,61.12 573.80,57.53 577.10,55.40 C580.40,53.27 582.08,52.17 585.90,51.40 C589.72,50.63 585.65,50.95 600.00,50.80 C614.35,50.65 660.00,50.55 672.00,50.50" stroke="#6f93d6" stroke-width="1.7" fill="none" stroke-dasharray="4.6,2.4"/>
<path d="M448.00,50.60 C460.00,50.67 504.67,50.77 520.00,51.00 C535.33,51.23 534.52,50.83 540.00,52.00 C545.48,53.17 549.28,52.52 552.90,58.00 C556.52,63.48 559.68,73.10 561.70,84.90 C563.72,96.70 564.03,114.62 565.00,128.80 C565.97,142.98 566.77,160.63 567.50,170.00 C568.23,179.37 568.73,184.17 569.40,185.00 C570.07,185.83 570.77,182.53 571.50,175.00 C572.23,167.47 572.50,152.98 573.80,139.80 C575.10,126.62 577.28,108.35 579.30,95.90 C581.32,83.45 583.33,71.85 585.90,65.10 C588.47,58.35 590.68,57.55 594.70,55.40 C598.72,53.25 597.12,52.90 610.00,52.20 C622.88,51.50 661.67,51.37 672.00,51.20" stroke="#f0a650" stroke-width="1.7" fill="none" stroke-dasharray="4.6,2.4"/>
<path d="M448.00,51.80 C460.00,51.92 503.83,52.13 520.00,52.50 C536.17,52.87 538.78,52.75 545.00,54.00 C551.22,55.25 554.15,55.58 557.30,60.00 C560.45,64.42 561.88,70.85 563.90,80.50 C565.92,90.15 567.88,103.82 569.40,117.90 C570.92,131.98 572.07,153.57 573.00,165.00 C573.93,176.43 574.25,185.67 575.00,186.50 C575.75,187.33 576.78,175.95 577.50,170.00 C578.22,164.05 577.90,161.32 579.30,150.80 C580.70,140.28 583.70,119.72 585.90,106.90 C588.10,94.08 590.30,81.22 592.50,73.90 C594.70,66.58 596.52,65.57 599.10,63.00 C601.68,60.43 603.68,59.95 608.00,58.50 C612.32,57.05 614.33,55.25 625.00,54.30 C635.67,53.35 664.17,53.05 672.00,52.80" stroke="#ee7f95" stroke-width="1.7" fill="none" stroke-dasharray="4.6,2.4"/>
<circle cx="525.9" cy="73.6" r="1.45" fill="#66bb77" opacity="0.8"/>
<circle cx="526.9" cy="78.3" r="1.45" fill="#66bb77" opacity="0.8"/>
<circle cx="528.2" cy="81.5" r="1.45" fill="#66bb77" opacity="0.8"/>
<circle cx="528.0" cy="87.9" r="1.45" fill="#66bb77" opacity="0.8"/>
<circle cx="528.9" cy="91.0" r="1.45" fill="#66bb77" opacity="0.8"/>
<circle cx="530.5" cy="96.1" r="1.45" fill="#66bb77" opacity="0.8"/>
<circle cx="530.8" cy="100.6" r="1.45" fill="#66bb77" opacity="0.8"/>
<circle cx="530.9" cy="104.3" r="1.45" fill="#66bb77" opacity="0.8"/>
<circle cx="531.4" cy="110.6" r="1.45" fill="#66bb77" opacity="0.8"/>
<circle cx="531.7" cy="114.8" r="1.45" fill="#66bb77" opacity="0.8"/>
<circle cx="532.4" cy="117.7" r="1.45" fill="#66bb77" opacity="0.8"/>
<circle cx="533.0" cy="123.5" r="1.45" fill="#66bb77" opacity="0.8"/>
<circle cx="532.8" cy="126.7" r="1.45" fill="#66bb77" opacity="0.8"/>
<circle cx="534.1" cy="132.2" r="1.45" fill="#66bb77" opacity="0.8"/>
<circle cx="534.4" cy="137.7" r="1.45" fill="#66bb77" opacity="0.8"/>
<circle cx="534.8" cy="142.3" r="1.45" fill="#66bb77" opacity="0.8"/>
<circle cx="534.7" cy="146.5" r="1.45" fill="#66bb77" opacity="0.8"/>
<circle cx="535.3" cy="151.3" r="1.45" fill="#66bb77" opacity="0.8"/>
<circle cx="536.4" cy="153.8" r="1.45" fill="#66bb77" opacity="0.8"/>
<circle cx="535.7" cy="158.6" r="1.45" fill="#66bb77" opacity="0.8"/>
<circle cx="537.4" cy="163.6" r="1.45" fill="#66bb77" opacity="0.8"/>
<circle cx="537.4" cy="167.8" r="1.45" fill="#66bb77" opacity="0.8"/>
<circle cx="537.6" cy="172.5" r="1.45" fill="#66bb77" opacity="0.8"/>
<circle cx="538.2" cy="177.5" r="1.45" fill="#66bb77" opacity="0.8"/>
<circle cx="539.4" cy="182.7" r="1.45" fill="#66bb77" opacity="0.8"/>
<circle cx="540.9" cy="181.4" r="1.45" fill="#66bb77" opacity="0.8"/>
<circle cx="542.3" cy="177.2" r="1.45" fill="#66bb77" opacity="0.8"/>
<circle cx="542.4" cy="170.6" r="1.45" fill="#66bb77" opacity="0.8"/>
<circle cx="543.2" cy="168.0" r="1.45" fill="#66bb77" opacity="0.8"/>
<circle cx="543.7" cy="162.6" r="1.45" fill="#66bb77" opacity="0.8"/>
<circle cx="543.8" cy="157.2" r="1.45" fill="#66bb77" opacity="0.8"/>
<circle cx="544.5" cy="153.5" r="1.45" fill="#66bb77" opacity="0.8"/>
<circle cx="544.1" cy="147.8" r="1.45" fill="#66bb77" opacity="0.8"/>
<circle cx="545.5" cy="145.5" r="1.45" fill="#66bb77" opacity="0.8"/>
<circle cx="544.8" cy="140.6" r="1.45" fill="#66bb77" opacity="0.8"/>
<circle cx="545.9" cy="134.5" r="1.45" fill="#66bb77" opacity="0.8"/>
<circle cx="546.2" cy="131.6" r="1.45" fill="#66bb77" opacity="0.8"/>
<circle cx="547.7" cy="125.3" r="1.45" fill="#66bb77" opacity="0.8"/>
<circle cx="547.8" cy="120.9" r="1.45" fill="#66bb77" opacity="0.8"/>
<circle cx="548.5" cy="117.1" r="1.45" fill="#66bb77" opacity="0.8"/>
<circle cx="549.3" cy="114.2" r="1.45" fill="#66bb77" opacity="0.8"/>
<circle cx="549.5" cy="109.7" r="1.45" fill="#66bb77" opacity="0.8"/>
<circle cx="550.0" cy="103.1" r="1.45" fill="#66bb77" opacity="0.8"/>
<circle cx="551.3" cy="98.5" r="1.45" fill="#66bb77" opacity="0.8"/>
<circle cx="551.5" cy="94.9" r="1.45" fill="#66bb77" opacity="0.8"/>
<circle cx="553.0" cy="89.9" r="1.45" fill="#66bb77" opacity="0.8"/>
<circle cx="552.9" cy="87.1" r="1.45" fill="#66bb77" opacity="0.8"/>
<circle cx="554.2" cy="82.9" r="1.45" fill="#66bb77" opacity="0.8"/>
<circle cx="556.2" cy="77.1" r="1.45" fill="#66bb77" opacity="0.8"/>
<circle cx="557.5" cy="73.4" r="1.45" fill="#66bb77" opacity="0.8"/>
<circle cx="559.8" cy="69.5" r="1.45" fill="#66bb77" opacity="0.8"/>
<circle cx="561.7" cy="65.5" r="1.45" fill="#66bb77" opacity="0.8"/>
<circle cx="564.4" cy="61.2" r="1.45" fill="#66bb77" opacity="0.8"/>
<circle cx="567.1" cy="58.8" r="1.45" fill="#66bb77" opacity="0.8"/>
<circle cx="570.6" cy="55.0" r="1.45" fill="#66bb77" opacity="0.8"/>
<circle cx="576.0" cy="54.1" r="1.45" fill="#66bb77" opacity="0.8"/>
<circle cx="579.9" cy="52.7" r="1.45" fill="#66bb77" opacity="0.8"/>
<circle cx="584.3" cy="53.8" r="1.45" fill="#66bb77" opacity="0.8"/>
<circle cx="588.2" cy="53.6" r="1.45" fill="#66bb77" opacity="0.8"/>
<circle cx="593.7" cy="52.2" r="1.45" fill="#66bb77" opacity="0.8"/>
<circle cx="528.2" cy="55.9" r="1.45" fill="#6f93d6" opacity="0.8"/>
<circle cx="531.1" cy="58.8" r="1.45" fill="#6f93d6" opacity="0.8"/>
<circle cx="533.7" cy="63.6" r="1.45" fill="#6f93d6" opacity="0.8"/>
<circle cx="533.1" cy="66.4" r="1.45" fill="#6f93d6" opacity="0.8"/>
<circle cx="534.8" cy="73.1" r="1.45" fill="#6f93d6" opacity="0.8"/>
<circle cx="534.7" cy="76.4" r="1.45" fill="#6f93d6" opacity="0.8"/>
<circle cx="535.8" cy="80.5" r="1.45" fill="#6f93d6" opacity="0.8"/>
<circle cx="536.0" cy="85.0" r="1.45" fill="#6f93d6" opacity="0.8"/>
<circle cx="536.6" cy="90.1" r="1.45" fill="#6f93d6" opacity="0.8"/>
<circle cx="537.1" cy="94.1" r="1.45" fill="#6f93d6" opacity="0.8"/>
<circle cx="538.3" cy="97.8" r="1.45" fill="#6f93d6" opacity="0.8"/>
<circle cx="538.5" cy="103.9" r="1.45" fill="#6f93d6" opacity="0.8"/>
<circle cx="538.5" cy="107.2" r="1.45" fill="#6f93d6" opacity="0.8"/>
<circle cx="539.7" cy="111.7" r="1.45" fill="#6f93d6" opacity="0.8"/>
<circle cx="539.2" cy="116.7" r="1.45" fill="#6f93d6" opacity="0.8"/>
<circle cx="540.5" cy="120.4" r="1.45" fill="#6f93d6" opacity="0.8"/>
<circle cx="540.3" cy="125.4" r="1.45" fill="#6f93d6" opacity="0.8"/>
<circle cx="541.6" cy="130.2" r="1.45" fill="#6f93d6" opacity="0.8"/>
<circle cx="542.1" cy="134.0" r="1.45" fill="#6f93d6" opacity="0.8"/>
<circle cx="541.7" cy="139.7" r="1.45" fill="#6f93d6" opacity="0.8"/>
<circle cx="543.0" cy="143.7" r="1.45" fill="#6f93d6" opacity="0.8"/>
<circle cx="542.4" cy="147.4" r="1.45" fill="#6f93d6" opacity="0.8"/>
<circle cx="543.3" cy="152.1" r="1.45" fill="#6f93d6" opacity="0.8"/>
<circle cx="544.2" cy="158.2" r="1.45" fill="#6f93d6" opacity="0.8"/>
<circle cx="543.6" cy="161.4" r="1.45" fill="#6f93d6" opacity="0.8"/>
<circle cx="545.1" cy="166.8" r="1.45" fill="#6f93d6" opacity="0.8"/>
<circle cx="545.5" cy="170.6" r="1.45" fill="#6f93d6" opacity="0.8"/>
<circle cx="544.9" cy="175.0" r="1.45" fill="#6f93d6" opacity="0.8"/>
<circle cx="547.1" cy="179.5" r="1.45" fill="#6f93d6" opacity="0.8"/>
<circle cx="547.5" cy="182.3" r="1.45" fill="#6f93d6" opacity="0.8"/>
<circle cx="548.4" cy="177.8" r="1.45" fill="#6f93d6" opacity="0.8"/>
<circle cx="549.9" cy="172.7" r="1.45" fill="#6f93d6" opacity="0.8"/>
<circle cx="548.9" cy="170.1" r="1.45" fill="#6f93d6" opacity="0.8"/>
<circle cx="550.5" cy="165.7" r="1.45" fill="#6f93d6" opacity="0.8"/>
<circle cx="550.0" cy="161.1" r="1.45" fill="#6f93d6" opacity="0.8"/>
<circle cx="551.1" cy="154.8" r="1.45" fill="#6f93d6" opacity="0.8"/>
<circle cx="551.0" cy="151.8" r="1.45" fill="#6f93d6" opacity="0.8"/>
<circle cx="551.3" cy="146.5" r="1.45" fill="#6f93d6" opacity="0.8"/>
<circle cx="551.2" cy="141.6" r="1.45" fill="#6f93d6" opacity="0.8"/>
<circle cx="551.5" cy="136.4" r="1.45" fill="#6f93d6" opacity="0.8"/>
<circle cx="552.6" cy="132.4" r="1.45" fill="#6f93d6" opacity="0.8"/>
<circle cx="553.4" cy="127.4" r="1.45" fill="#6f93d6" opacity="0.8"/>
<circle cx="554.0" cy="124.4" r="1.45" fill="#6f93d6" opacity="0.8"/>
<circle cx="554.5" cy="120.4" r="1.45" fill="#6f93d6" opacity="0.8"/>
<circle cx="554.9" cy="115.1" r="1.45" fill="#6f93d6" opacity="0.8"/>
<circle cx="554.0" cy="111.0" r="1.45" fill="#6f93d6" opacity="0.8"/>
<circle cx="554.7" cy="105.4" r="1.45" fill="#6f93d6" opacity="0.8"/>
<circle cx="556.3" cy="101.5" r="1.45" fill="#6f93d6" opacity="0.8"/>
<circle cx="556.6" cy="98.0" r="1.45" fill="#6f93d6" opacity="0.8"/>
<circle cx="557.7" cy="92.0" r="1.45" fill="#6f93d6" opacity="0.8"/>
<circle cx="557.9" cy="88.8" r="1.45" fill="#6f93d6" opacity="0.8"/>
<circle cx="559.0" cy="84.1" r="1.45" fill="#6f93d6" opacity="0.8"/>
<circle cx="559.5" cy="78.2" r="1.45" fill="#6f93d6" opacity="0.8"/>
<circle cx="560.6" cy="75.2" r="1.45" fill="#6f93d6" opacity="0.8"/>
<circle cx="562.1" cy="71.1" r="1.45" fill="#6f93d6" opacity="0.8"/>
<circle cx="565.5" cy="67.1" r="1.45" fill="#6f93d6" opacity="0.8"/>
<circle cx="568.2" cy="61.8" r="1.45" fill="#6f93d6" opacity="0.8"/>
<circle cx="571.4" cy="61.0" r="1.45" fill="#6f93d6" opacity="0.8"/>
<circle cx="574.0" cy="56.7" r="1.45" fill="#6f93d6" opacity="0.8"/>
<circle cx="578.1" cy="54.8" r="1.45" fill="#6f93d6" opacity="0.8"/>
<circle cx="582.5" cy="52.8" r="1.45" fill="#6f93d6" opacity="0.8"/>
<circle cx="587.3" cy="50.2" r="1.45" fill="#6f93d6" opacity="0.8"/>
<circle cx="590.7" cy="50.3" r="1.45" fill="#6f93d6" opacity="0.8"/>
<circle cx="595.4" cy="49.9" r="1.45" fill="#6f93d6" opacity="0.8"/>
<circle cx="529.3" cy="52.3" r="1.45" fill="#f0a650" opacity="0.8"/>
<circle cx="532.3" cy="51.7" r="1.45" fill="#f0a650" opacity="0.8"/>
<circle cx="537.2" cy="51.4" r="1.45" fill="#f0a650" opacity="0.8"/>
<circle cx="541.6" cy="53.2" r="1.45" fill="#f0a650" opacity="0.8"/>
<circle cx="546.1" cy="54.5" r="1.45" fill="#f0a650" opacity="0.8"/>
<circle cx="549.6" cy="56.3" r="1.45" fill="#f0a650" opacity="0.8"/>
<circle cx="552.8" cy="59.6" r="1.45" fill="#f0a650" opacity="0.8"/>
<circle cx="555.1" cy="63.5" r="1.45" fill="#f0a650" opacity="0.8"/>
<circle cx="555.5" cy="67.3" r="1.45" fill="#f0a650" opacity="0.8"/>
<circle cx="557.4" cy="72.7" r="1.45" fill="#f0a650" opacity="0.8"/>
<circle cx="559.5" cy="76.4" r="1.45" fill="#f0a650" opacity="0.8"/>
<circle cx="560.9" cy="81.4" r="1.45" fill="#f0a650" opacity="0.8"/>
<circle cx="561.6" cy="85.1" r="1.45" fill="#f0a650" opacity="0.8"/>
<circle cx="562.1" cy="90.4" r="1.45" fill="#f0a650" opacity="0.8"/>
<circle cx="562.3" cy="94.8" r="1.45" fill="#f0a650" opacity="0.8"/>
<circle cx="562.7" cy="98.3" r="1.45" fill="#f0a650" opacity="0.8"/>
<circle cx="563.1" cy="103.8" r="1.45" fill="#f0a650" opacity="0.8"/>
<circle cx="562.7" cy="107.7" r="1.45" fill="#f0a650" opacity="0.8"/>
<circle cx="563.6" cy="113.2" r="1.45" fill="#f0a650" opacity="0.8"/>
<circle cx="564.8" cy="116.5" r="1.45" fill="#f0a650" opacity="0.8"/>
<circle cx="565.1" cy="122.0" r="1.45" fill="#f0a650" opacity="0.8"/>
<circle cx="564.4" cy="125.7" r="1.45" fill="#f0a650" opacity="0.8"/>
<circle cx="564.5" cy="131.1" r="1.45" fill="#f0a650" opacity="0.8"/>
<circle cx="565.6" cy="135.8" r="1.45" fill="#f0a650" opacity="0.8"/>
<circle cx="566.1" cy="139.8" r="1.45" fill="#f0a650" opacity="0.8"/>
<circle cx="566.3" cy="144.0" r="1.45" fill="#f0a650" opacity="0.8"/>
<circle cx="565.6" cy="148.6" r="1.45" fill="#f0a650" opacity="0.8"/>
<circle cx="565.7" cy="152.1" r="1.45" fill="#f0a650" opacity="0.8"/>
<circle cx="567.2" cy="156.3" r="1.45" fill="#f0a650" opacity="0.8"/>
<circle cx="566.4" cy="161.0" r="1.45" fill="#f0a650" opacity="0.8"/>
<circle cx="567.9" cy="165.7" r="1.45" fill="#f0a650" opacity="0.8"/>
<circle cx="566.9" cy="171.8" r="1.45" fill="#f0a650" opacity="0.8"/>
<circle cx="567.6" cy="176.3" r="1.45" fill="#f0a650" opacity="0.8"/>
<circle cx="569.0" cy="180.8" r="1.45" fill="#f0a650" opacity="0.8"/>
<circle cx="570.1" cy="184.7" r="1.45" fill="#f0a650" opacity="0.8"/>
<circle cx="570.7" cy="179.9" r="1.45" fill="#f0a650" opacity="0.8"/>
<circle cx="571.6" cy="176.5" r="1.45" fill="#f0a650" opacity="0.8"/>
<circle cx="572.0" cy="171.0" r="1.45" fill="#f0a650" opacity="0.8"/>
<circle cx="572.4" cy="168.5" r="1.45" fill="#f0a650" opacity="0.8"/>
<circle cx="571.6" cy="162.5" r="1.45" fill="#f0a650" opacity="0.8"/>
<circle cx="572.7" cy="159.2" r="1.45" fill="#f0a650" opacity="0.8"/>
<circle cx="572.5" cy="153.1" r="1.45" fill="#f0a650" opacity="0.8"/>
<circle cx="572.8" cy="149.6" r="1.45" fill="#f0a650" opacity="0.8"/>
<circle cx="573.9" cy="144.6" r="1.45" fill="#f0a650" opacity="0.8"/>
<circle cx="573.6" cy="140.1" r="1.45" fill="#f0a650" opacity="0.8"/>
<circle cx="574.1" cy="135.6" r="1.45" fill="#f0a650" opacity="0.8"/>
<circle cx="574.2" cy="131.3" r="1.45" fill="#f0a650" opacity="0.8"/>
<circle cx="576.2" cy="126.6" r="1.45" fill="#f0a650" opacity="0.8"/>
<circle cx="576.4" cy="121.5" r="1.45" fill="#f0a650" opacity="0.8"/>
<circle cx="576.9" cy="118.5" r="1.45" fill="#f0a650" opacity="0.8"/>
<circle cx="577.4" cy="113.4" r="1.45" fill="#f0a650" opacity="0.8"/>
<circle cx="577.6" cy="109.2" r="1.45" fill="#f0a650" opacity="0.8"/>
<circle cx="578.9" cy="103.5" r="1.45" fill="#f0a650" opacity="0.8"/>
<circle cx="578.2" cy="100.5" r="1.45" fill="#f0a650" opacity="0.8"/>
<circle cx="580.1" cy="95.4" r="1.45" fill="#f0a650" opacity="0.8"/>
<circle cx="580.3" cy="91.5" r="1.45" fill="#f0a650" opacity="0.8"/>
<circle cx="580.8" cy="85.9" r="1.45" fill="#f0a650" opacity="0.8"/>
<circle cx="581.8" cy="82.2" r="1.45" fill="#f0a650" opacity="0.8"/>
<circle cx="582.9" cy="76.9" r="1.45" fill="#f0a650" opacity="0.8"/>
<circle cx="584.5" cy="74.1" r="1.45" fill="#f0a650" opacity="0.8"/>
<circle cx="584.8" cy="69.1" r="1.45" fill="#f0a650" opacity="0.8"/>
<circle cx="586.4" cy="65.2" r="1.45" fill="#f0a650" opacity="0.8"/>
<circle cx="589.8" cy="60.4" r="1.45" fill="#f0a650" opacity="0.8"/>
<circle cx="592.2" cy="56.5" r="1.45" fill="#f0a650" opacity="0.8"/>
<circle cx="528.5" cy="52.7" r="1.45" fill="#ee7f95" opacity="0.8"/>
<circle cx="532.5" cy="52.9" r="1.45" fill="#ee7f95" opacity="0.8"/>
<circle cx="537.2" cy="54.2" r="1.45" fill="#ee7f95" opacity="0.8"/>
<circle cx="541.4" cy="55.0" r="1.45" fill="#ee7f95" opacity="0.8"/>
<circle cx="546.3" cy="54.9" r="1.45" fill="#ee7f95" opacity="0.8"/>
<circle cx="550.4" cy="57.5" r="1.45" fill="#ee7f95" opacity="0.8"/>
<circle cx="555.1" cy="58.8" r="1.45" fill="#ee7f95" opacity="0.8"/>
<circle cx="557.7" cy="62.0" r="1.45" fill="#ee7f95" opacity="0.8"/>
<circle cx="559.7" cy="65.5" r="1.45" fill="#ee7f95" opacity="0.8"/>
<circle cx="560.9" cy="71.1" r="1.45" fill="#ee7f95" opacity="0.8"/>
<circle cx="561.9" cy="73.7" r="1.45" fill="#ee7f95" opacity="0.8"/>
<circle cx="562.9" cy="79.1" r="1.45" fill="#ee7f95" opacity="0.8"/>
<circle cx="564.5" cy="84.1" r="1.45" fill="#ee7f95" opacity="0.8"/>
<circle cx="565.5" cy="86.9" r="1.45" fill="#ee7f95" opacity="0.8"/>
<circle cx="565.1" cy="91.4" r="1.45" fill="#ee7f95" opacity="0.8"/>
<circle cx="565.7" cy="96.9" r="1.45" fill="#ee7f95" opacity="0.8"/>
<circle cx="567.5" cy="101.9" r="1.45" fill="#ee7f95" opacity="0.8"/>
<circle cx="567.2" cy="106.3" r="1.45" fill="#ee7f95" opacity="0.8"/>
<circle cx="567.9" cy="109.7" r="1.45" fill="#ee7f95" opacity="0.8"/>
<circle cx="569.3" cy="113.4" r="1.45" fill="#ee7f95" opacity="0.8"/>
<circle cx="568.8" cy="119.7" r="1.45" fill="#ee7f95" opacity="0.8"/>
<circle cx="569.5" cy="123.1" r="1.45" fill="#ee7f95" opacity="0.8"/>
<circle cx="570.3" cy="128.3" r="1.45" fill="#ee7f95" opacity="0.8"/>
<circle cx="569.7" cy="132.0" r="1.45" fill="#ee7f95" opacity="0.8"/>
<circle cx="570.8" cy="136.9" r="1.45" fill="#ee7f95" opacity="0.8"/>
<circle cx="570.7" cy="141.7" r="1.45" fill="#ee7f95" opacity="0.8"/>
<circle cx="572.3" cy="145.7" r="1.45" fill="#ee7f95" opacity="0.8"/>
<circle cx="572.0" cy="149.6" r="1.45" fill="#ee7f95" opacity="0.8"/>
<circle cx="571.9" cy="155.4" r="1.45" fill="#ee7f95" opacity="0.8"/>
<circle cx="572.0" cy="160.4" r="1.45" fill="#ee7f95" opacity="0.8"/>
<circle cx="573.6" cy="163.0" r="1.45" fill="#ee7f95" opacity="0.8"/>
<circle cx="574.0" cy="168.2" r="1.45" fill="#ee7f95" opacity="0.8"/>
<circle cx="574.2" cy="173.6" r="1.45" fill="#ee7f95" opacity="0.8"/>
<circle cx="573.8" cy="177.9" r="1.45" fill="#ee7f95" opacity="0.8"/>
<circle cx="574.8" cy="182.7" r="1.45" fill="#ee7f95" opacity="0.8"/>
<circle cx="574.6" cy="187.1" r="1.45" fill="#ee7f95" opacity="0.8"/>
<circle cx="576.4" cy="182.4" r="1.45" fill="#ee7f95" opacity="0.8"/>
<circle cx="576.4" cy="176.6" r="1.45" fill="#ee7f95" opacity="0.8"/>
<circle cx="577.0" cy="172.6" r="1.45" fill="#ee7f95" opacity="0.8"/>
<circle cx="578.0" cy="168.9" r="1.45" fill="#ee7f95" opacity="0.8"/>
<circle cx="578.2" cy="163.2" r="1.45" fill="#ee7f95" opacity="0.8"/>
<circle cx="578.7" cy="159.7" r="1.45" fill="#ee7f95" opacity="0.8"/>
<circle cx="578.4" cy="155.8" r="1.45" fill="#ee7f95" opacity="0.8"/>
<circle cx="579.6" cy="149.4" r="1.45" fill="#ee7f95" opacity="0.8"/>
<circle cx="580.7" cy="145.0" r="1.45" fill="#ee7f95" opacity="0.8"/>
<circle cx="580.5" cy="141.9" r="1.45" fill="#ee7f95" opacity="0.8"/>
<circle cx="581.6" cy="137.0" r="1.45" fill="#ee7f95" opacity="0.8"/>
<circle cx="582.3" cy="132.2" r="1.45" fill="#ee7f95" opacity="0.8"/>
<circle cx="582.4" cy="127.1" r="1.45" fill="#ee7f95" opacity="0.8"/>
<circle cx="582.7" cy="123.9" r="1.45" fill="#ee7f95" opacity="0.8"/>
<circle cx="584.5" cy="119.0" r="1.45" fill="#ee7f95" opacity="0.8"/>
<circle cx="585.2" cy="114.0" r="1.45" fill="#ee7f95" opacity="0.8"/>
<circle cx="585.1" cy="109.6" r="1.45" fill="#ee7f95" opacity="0.8"/>
<circle cx="586.8" cy="104.3" r="1.45" fill="#ee7f95" opacity="0.8"/>
<circle cx="587.1" cy="100.4" r="1.45" fill="#ee7f95" opacity="0.8"/>
<circle cx="588.4" cy="96.2" r="1.45" fill="#ee7f95" opacity="0.8"/>
<circle cx="588.6" cy="91.9" r="1.45" fill="#ee7f95" opacity="0.8"/>
<circle cx="589.8" cy="88.3" r="1.45" fill="#ee7f95" opacity="0.8"/>
<circle cx="590.4" cy="84.1" r="1.45" fill="#ee7f95" opacity="0.8"/>
<circle cx="590.9" cy="78.3" r="1.45" fill="#ee7f95" opacity="0.8"/>
<circle cx="591.8" cy="73.5" r="1.45" fill="#ee7f95" opacity="0.8"/>
<circle cx="595.1" cy="71.0" r="1.45" fill="#ee7f95" opacity="0.8"/>
<circle cx="450.5" cy="46.6" r="1.6" fill="none" stroke="#ee7f95" stroke-width="0.9"/>
<circle cx="458.4" cy="46.4" r="1.6" fill="none" stroke="#ee7f95" stroke-width="0.9"/>
<circle cx="466.9" cy="49.9" r="1.6" fill="none" stroke="#ee7f95" stroke-width="0.9"/>
<circle cx="474.8" cy="52" r="1.6" fill="none" stroke="#ee7f95" stroke-width="0.9"/>
<circle cx="482.9" cy="51.5" r="1.6" fill="none" stroke="#ee7f95" stroke-width="0.9"/>
<circle cx="491" cy="58.7" r="1.6" fill="none" stroke="#ee7f95" stroke-width="0.9"/>
<circle cx="499.3" cy="50.8" r="1.6" fill="none" stroke="#ee7f95" stroke-width="0.9"/>
<circle cx="507" cy="47.1" r="1.6" fill="none" stroke="#ee7f95" stroke-width="0.9"/>
<circle cx="515.3" cy="62" r="1.6" fill="none" stroke="#ee7f95" stroke-width="0.9"/>
<circle cx="523.4" cy="63.5" r="1.6" fill="none" stroke="#ee7f95" stroke-width="0.9"/>
<circle cx="602.9" cy="64.2" r="1.6" fill="none" stroke="#ee7f95" stroke-width="0.9"/>
<circle cx="610.7" cy="59.6" r="1.6" fill="none" stroke="#ee7f95" stroke-width="0.9"/>
<circle cx="618.4" cy="52" r="1.6" fill="none" stroke="#ee7f95" stroke-width="0.9"/>
<circle cx="626.2" cy="48.9" r="1.6" fill="none" stroke="#ee7f95" stroke-width="0.9"/>
<circle cx="633.9" cy="40.1" r="1.6" fill="none" stroke="#ee7f95" stroke-width="0.9"/>
<circle cx="641.8" cy="39.2" r="1.6" fill="none" stroke="#ee7f95" stroke-width="0.9"/>
<circle cx="649.4" cy="39.2" r="1.6" fill="none" stroke="#ee7f95" stroke-width="0.9"/>
<circle cx="657.3" cy="38.6" r="1.6" fill="none" stroke="#ee7f95" stroke-width="0.9"/>
<circle cx="664.9" cy="45.6" r="1.6" fill="none" stroke="#ee7f95" stroke-width="0.9"/>
<circle cx="450.5" cy="53.6" r="1.7" fill="#6f93d6"/>
<circle cx="458.4" cy="53.6" r="1.7" fill="#6f93d6"/>
<circle cx="466.9" cy="57.4" r="1.7" fill="#6f93d6"/>
<circle cx="474.8" cy="50" r="1.7" fill="#6f93d6"/>
<circle cx="482.9" cy="44.9" r="1.7" fill="#6f93d6"/>
<circle cx="491" cy="48.6" r="1.7" fill="#6f93d6"/>
<circle cx="499.3" cy="48.2" r="1.7" fill="#6f93d6"/>
<circle cx="507" cy="54.7" r="1.7" fill="#6f93d6"/>
<circle cx="515.3" cy="47.1" r="1.7" fill="#6f93d6"/>
<circle cx="523.4" cy="49.3" r="1.7" fill="#6f93d6"/>
<circle cx="602.9" cy="50.5" r="1.7" fill="#6f93d6"/>
<circle cx="610.7" cy="47.4" r="1.7" fill="#6f93d6"/>
<circle cx="618.4" cy="43.4" r="1.7" fill="#6f93d6"/>
<circle cx="626.2" cy="45" r="1.7" fill="#6f93d6"/>
<circle cx="633.9" cy="43.8" r="1.7" fill="#6f93d6"/>
<circle cx="641.8" cy="46.5" r="1.7" fill="#6f93d6"/>
<circle cx="649.4" cy="50.1" r="1.7" fill="#6f93d6"/>
<circle cx="657.3" cy="57.8" r="1.7" fill="#6f93d6"/>
<circle cx="664.9" cy="61.1" r="1.7" fill="#6f93d6"/>
<polygon points="450.5,49.0 452.5,51.0 450.5,53.0 448.5,51.0" fill="#f0a650" />
<polygon points="458.4,48.0 460.4,50.0 458.4,52.0 456.4,50.0" fill="#f0a650" />
<polygon points="466.9,50.0 468.9,52.0 466.9,54.0 464.9,52.0" fill="#f0a650" />
<polygon points="474.8,50.5 476.8,52.5 474.8,54.5 472.8,52.5" fill="#f0a650" />
<polygon points="482.9,48.5 484.9,50.5 482.9,52.5 480.9,50.5" fill="#f0a650" />
<polygon points="491.0,53.0 493.0,55.0 491.0,57.0 489.0,55.0" fill="#f0a650" />
<polygon points="499.3,51.0 501.3,53.0 499.3,55.0 497.3,53.0" fill="#f0a650" />
<polygon points="507.0,48.0 509.0,50.0 507.0,52.0 505.0,50.0" fill="#f0a650" />
<polygon points="515.3,53.5 517.3,55.5 515.3,57.5 513.3,55.5" fill="#f0a650" />
<polygon points="523.4,56.0 525.4,58.0 523.4,60.0 521.4,58.0" fill="#f0a650" />
<polygon points="602.9,54.0 604.9,56.0 602.9,58.0 600.9,56.0" fill="#f0a650" />
<polygon points="610.7,46.9 612.7,48.9 610.7,50.9 608.7,48.9" fill="#f0a650" />
<polygon points="618.4,45.0 620.4,47.0 618.4,49.0 616.4,47.0" fill="#f0a650" />
<polygon points="626.2,35.0 628.2,37.0 626.2,39.0 624.2,37.0" fill="#f0a650" />
<polygon points="633.9,35.7 635.9,37.7 633.9,39.7 631.9,37.7" fill="#f0a650" />
<polygon points="641.8,37.2 643.8,39.2 641.8,41.2 639.8,39.2" fill="#f0a650" />
<polygon points="649.4,45.0 651.4,47.0 649.4,49.0 647.4,47.0" fill="#f0a650" />
<polygon points="657.3,45.0 659.3,47.0 657.3,49.0 655.3,47.0" fill="#f0a650" />
<polygon points="664.9,46.9 666.9,48.9 664.9,50.9 662.9,48.9" fill="#f0a650" />
<rect x="448.90" y="54.20" width="3.20" height="3.20" fill="#66bb77" stroke="none" stroke-width="1" />
<rect x="456.80" y="57.10" width="3.20" height="3.20" fill="#66bb77" stroke="none" stroke-width="1" />
<rect x="465.30" y="65.60" width="3.20" height="3.20" fill="#66bb77" stroke="none" stroke-width="1" />
<rect x="473.00" y="66.90" width="3.20" height="3.20" fill="#66bb77" stroke="none" stroke-width="1" />
<rect x="481.30" y="60.80" width="3.20" height="3.20" fill="#66bb77" stroke="none" stroke-width="1" />
<rect x="489.40" y="58.60" width="3.20" height="3.20" fill="#66bb77" stroke="none" stroke-width="1" />
<rect x="497.70" y="54.40" width="3.20" height="3.20" fill="#66bb77" stroke="none" stroke-width="1" />
<rect x="505.80" y="60.80" width="3.20" height="3.20" fill="#66bb77" stroke="none" stroke-width="1" />
<rect x="513.70" y="58.40" width="3.20" height="3.20" fill="#66bb77" stroke="none" stroke-width="1" />
<rect x="521.80" y="55.40" width="3.20" height="3.20" fill="#66bb77" stroke="none" stroke-width="1" />
<rect x="601.30" y="50.40" width="3.20" height="3.20" fill="#66bb77" stroke="none" stroke-width="1" />
<rect x="609.10" y="50.90" width="3.20" height="3.20" fill="#66bb77" stroke="none" stroke-width="1" />
<rect x="616.80" y="52.20" width="3.20" height="3.20" fill="#66bb77" stroke="none" stroke-width="1" />
<rect x="624.60" y="56.20" width="3.20" height="3.20" fill="#66bb77" stroke="none" stroke-width="1" />
<rect x="632.30" y="58.60" width="3.20" height="3.20" fill="#66bb77" stroke="none" stroke-width="1" />
<rect x="640.20" y="58.60" width="3.20" height="3.20" fill="#66bb77" stroke="none" stroke-width="1" />
<rect x="647.80" y="61.90" width="3.20" height="3.20" fill="#66bb77" stroke="none" stroke-width="1" />
<rect x="655.70" y="71.00" width="3.20" height="3.20" fill="#66bb77" stroke="none" stroke-width="1" />
<rect x="663.30" y="68.30" width="3.20" height="3.20" fill="#66bb77" stroke="none" stroke-width="1" />
<circle cx="539.8" cy="184.4" r="3.3" fill="none" stroke="#2aa040" stroke-width="1.2"/>
<circle cx="547.5" cy="184.4" r="3.3" fill="none" stroke="#2a70c0" stroke-width="1.2"/>
<circle cx="568.8" cy="186.6" r="3.3" fill="none" stroke="#9a6a30" stroke-width="1.2"/>
<circle cx="576" cy="190.3" r="3.3" fill="none" stroke="#c81e3a" stroke-width="1.2"/>
<text x="529.6" y="197.6" font-size="10" text-anchor="start" fill="#2aa040" >*1</text>
<text x="543.8" y="197.6" font-size="10" text-anchor="start" fill="#2a70c0" >*2</text>
<text x="558.8" y="197.6" font-size="10" text-anchor="start" fill="#9a6a30" >*3</text>
<text x="580.2" y="197.6" font-size="10" text-anchor="start" fill="#c81e3a" >*4</text>
<rect x="447.90" y="19.60" width="228.90" height="184.20" fill="none" stroke="#231f20" stroke-width="1.1" />
<line x1="448.00" y1="203.80" x2="448.00" y2="201.30" stroke="#231f20" stroke-width="1" />
<text x="448.0" y="217.6" font-size="11.8" text-anchor="middle" fill="#231f20" >56</text>
<line x1="524.26" y1="203.80" x2="524.26" y2="201.30" stroke="#231f20" stroke-width="1" />
<text x="524.3" y="217.6" font-size="11.8" text-anchor="middle" fill="#231f20" >59</text>
<line x1="600.52" y1="203.80" x2="600.52" y2="201.30" stroke="#231f20" stroke-width="1" />
<text x="600.5" y="217.6" font-size="11.8" text-anchor="middle" fill="#231f20" >62</text>
<line x1="676.78" y1="203.80" x2="676.78" y2="201.30" stroke="#231f20" stroke-width="1" />
<text x="676.8" y="217.6" font-size="11.8" text-anchor="middle" fill="#231f20" >65</text>
<line x1="447.90" y1="203.50" x2="450.40" y2="203.50" stroke="#231f20" stroke-width="1" />
<text x="444.8" y="207.7" font-size="11.8" text-anchor="end" fill="#231f20" >0.0</text>
<line x1="447.90" y1="101.70" x2="450.40" y2="101.70" stroke="#231f20" stroke-width="1" />
<text x="444.8" y="105.9" font-size="11.8" text-anchor="end" fill="#231f20" >0.5</text>
<text x="564.7" y="233.4" font-size="11.8" text-anchor="middle" fill="#231f20" >Incident angle (°)</text>
<text x="0" y="0" transform="translate(420.7,107.0) rotate(-90)" font-size="12" text-anchor="middle" fill="#231f20" >Reflectivity</text>
<line x1="451.20" y1="120.40" x2="464.80" y2="120.40" stroke="#66bb77" stroke-width="1" stroke-dasharray="2.2,1.2"/>
<rect x="454.70" y="117.10" width="6.60" height="6.60" fill="#66bb77" stroke="none" stroke-width="1" />
<text x="468.6" y="124.6" font-size="11.8" text-anchor="start" fill="#231f20" >Square A</text>
<line x1="451.20" y1="134.85" x2="464.80" y2="134.85" stroke="#6f93d6" stroke-width="1" stroke-dasharray="2.2,1.2"/>
<circle cx="458" cy="134.85" r="3.6" fill="#6f93d6"/>
<text x="468.6" y="139.0" font-size="11.8" text-anchor="start" fill="#231f20" >Square B</text>
<line x1="451.20" y1="149.30" x2="464.80" y2="149.30" stroke="#f0a650" stroke-width="1" stroke-dasharray="2.2,1.2"/>
<polygon points="458.0,145.1 462.2,149.3 458.0,153.5 453.8,149.3" fill="#f0a650" />
<text x="468.6" y="153.5" font-size="11.8" text-anchor="start" fill="#231f20" >Square C</text>
<line x1="451.20" y1="163.75" x2="464.80" y2="163.75" stroke="#ee7f95" stroke-width="1" stroke-dasharray="2.2,1.2"/>
<circle cx="458" cy="163.75" r="3.6" fill="#ee7f95"/>
<line x1="456.00" y1="162.55" x2="460.00" y2="162.55" stroke="#fff" stroke-width="0.8" />
<line x1="458.00" y1="162.55" x2="458.00" y2="165.55" stroke="#fff" stroke-width="0.8" />
<text x="468.6" y="167.9" font-size="11.8" text-anchor="start" fill="#231f20" >Square D</text>
<text x="416.4" y="257.4" font-size="11.8" text-anchor="start" fill="#231f20" >(ii)</text>
<rect x="447.50" y="247.50" width="230.10" height="119.00" fill="none" stroke="#3a3a3a" stroke-width="0.9" stroke-dasharray="3,2"/>
<text x="475.5" y="264.4" font-size="11" text-anchor="middle" fill="#b4b4b4" font-weight="bold">A</text>
<text x="497.9" y="264.4" font-size="11" text-anchor="middle" fill="#b4b4b4" font-weight="bold">B</text>
<text x="519.3" y="264.4" font-size="11" text-anchor="middle" fill="#b4b4b4" font-weight="bold">C</text>
<text x="541.2" y="264.4" font-size="11" text-anchor="middle" fill="#b4b4b4" font-weight="bold">D</text>
<rect x="466.10" y="272.20" width="90.20" height="31.50" fill="#5f5b5a" stroke="#6cb444" stroke-width="1.8" />
<text x="451.5" y="276.6" font-size="11.5" text-anchor="start" fill="#2aa040" >*1</text>
<rect x="472.30" y="280.80" width="11.00" height="16.20" fill="#1e1a1a" stroke="none" stroke-width="1" rx="1.5"/>
<rect x="470.50" y="280.00" width="14.50" height="17.80" fill="none" stroke="#d8d8d8" stroke-width="0.7" stroke-dasharray="1.2,1"/>
<rect x="493.00" y="280.00" width="14.50" height="17.80" fill="none" stroke="#d8d8d8" stroke-width="0.7" stroke-dasharray="1.2,1"/>
<rect x="515.00" y="280.00" width="14.50" height="17.80" fill="none" stroke="#d8d8d8" stroke-width="0.7" stroke-dasharray="1.2,1"/>
<rect x="536.90" y="280.00" width="14.50" height="17.80" fill="none" stroke="#d8d8d8" stroke-width="0.7" stroke-dasharray="1.2,1"/>
<rect x="577.70" y="271.80" width="90.20" height="31.50" fill="#5f5b5a" stroke="#3aa8e0" stroke-width="1.8" />
<text x="562.9" y="276.2" font-size="11.5" text-anchor="start" fill="#2a70c0" >*2</text>
<rect x="583.90" y="280.40" width="11.00" height="16.20" fill="#3e3838" stroke="none" stroke-width="1" rx="1.5"/>
<rect x="582.10" y="279.60" width="14.50" height="17.80" fill="none" stroke="#d8d8d8" stroke-width="0.7" stroke-dasharray="1.2,1"/>
<rect x="606.40" y="280.40" width="11.00" height="16.20" fill="#1e1a1a" stroke="none" stroke-width="1" rx="1.5"/>
<rect x="604.60" y="279.60" width="14.50" height="17.80" fill="none" stroke="#d8d8d8" stroke-width="0.7" stroke-dasharray="1.2,1"/>
<rect x="626.60" y="279.60" width="14.50" height="17.80" fill="none" stroke="#d8d8d8" stroke-width="0.7" stroke-dasharray="1.2,1"/>
<rect x="648.50" y="279.60" width="14.50" height="17.80" fill="none" stroke="#d8d8d8" stroke-width="0.7" stroke-dasharray="1.2,1"/>
<rect x="466.10" y="321.50" width="90.20" height="31.50" fill="#5f5b5a" stroke="#f4b030" stroke-width="1.8" />
<text x="451.5" y="325.9" font-size="11.5" text-anchor="start" fill="#a0603a" >*3</text>
<rect x="470.50" y="329.30" width="14.50" height="17.80" fill="none" stroke="#d8d8d8" stroke-width="0.7" stroke-dasharray="1.2,1"/>
<rect x="493.00" y="329.30" width="14.50" height="17.80" fill="none" stroke="#d8d8d8" stroke-width="0.7" stroke-dasharray="1.2,1"/>
<rect x="516.80" y="330.10" width="11.00" height="16.20" fill="#1e1a1a" stroke="none" stroke-width="1" rx="1.5"/>
<rect x="515.00" y="329.30" width="14.50" height="17.80" fill="none" stroke="#d8d8d8" stroke-width="0.7" stroke-dasharray="1.2,1"/>
<rect x="538.70" y="330.10" width="11.00" height="16.20" fill="#3e3838" stroke="none" stroke-width="1" rx="1.5"/>
<rect x="536.90" y="329.30" width="14.50" height="17.80" fill="none" stroke="#d8d8d8" stroke-width="0.7" stroke-dasharray="1.2,1"/>
<rect x="577.70" y="321.50" width="90.20" height="31.50" fill="#5f5b5a" stroke="#c8202e" stroke-width="1.8" />
<text x="562.9" y="325.9" font-size="11.5" text-anchor="start" fill="#c81e3a" >*4</text>
<rect x="582.10" y="329.30" width="14.50" height="17.80" fill="none" stroke="#d8d8d8" stroke-width="0.7" stroke-dasharray="1.2,1"/>
<rect x="604.60" y="329.30" width="14.50" height="17.80" fill="none" stroke="#d8d8d8" stroke-width="0.7" stroke-dasharray="1.2,1"/>
<rect x="628.40" y="330.10" width="11.00" height="16.20" fill="#3e3838" stroke="none" stroke-width="1" rx="1.5"/>
<rect x="626.60" y="329.30" width="14.50" height="17.80" fill="none" stroke="#d8d8d8" stroke-width="0.7" stroke-dasharray="1.2,1"/>
<rect x="650.30" y="330.10" width="11.00" height="16.20" fill="#1e1a1a" stroke="none" stroke-width="1" rx="1.5"/>
<rect x="648.50" y="329.30" width="14.50" height="17.80" fill="none" stroke="#d8d8d8" stroke-width="0.7" stroke-dasharray="1.2,1"/>
<text x="13.1" y="411.6" font-size="11.5" text-anchor="start" fill="#231f20" >d</text>
<text x="22.8" y="445.6" font-size="11.8" text-anchor="start" fill="#231f20" >(i)</text>
<text x="195.8" y="418.6" font-size="12" text-anchor="middle" fill="#231f20" >Resonant angle (°)</text>
<text x="75.7" y="435.6" font-size="12" text-anchor="middle" fill="#231f20" >60</text>
<text x="135.0" y="435.6" font-size="12" text-anchor="middle" fill="#231f20" >65</text>
<line x1="134.98" y1="440.80" x2="134.98" y2="443.30" stroke="#4a4a4a" stroke-width="1" />
<text x="194.2" y="435.6" font-size="12" text-anchor="middle" fill="#231f20" >70</text>
<line x1="194.25" y1="440.80" x2="194.25" y2="443.30" stroke="#4a4a4a" stroke-width="1" />
<text x="253.5" y="435.6" font-size="12" text-anchor="middle" fill="#231f20" >75</text>
<line x1="253.53" y1="440.80" x2="253.53" y2="443.30" stroke="#4a4a4a" stroke-width="1" />
<text x="312.8" y="435.6" font-size="12" text-anchor="middle" fill="#231f20" >80</text>
<text x="68.6" y="449.4" font-size="12" text-anchor="end" fill="#231f20" >1.0</text>
<text x="68.6" y="520.3" font-size="12" text-anchor="end" fill="#231f20" >1.2</text>
<line x1="75.70" y1="515.40" x2="78.20" y2="515.40" stroke="#4a4a4a" stroke-width="1" />
<text x="68.6" y="595.2" font-size="12" text-anchor="end" fill="#231f20" >1.4</text>
<line x1="75.70" y1="590.30" x2="78.20" y2="590.30" stroke="#4a4a4a" stroke-width="1" />
<text x="0" y="0" transform="translate(42.6,518.0) rotate(-90)" font-size="12" text-anchor="middle" fill="#231f20" >Refractive index</text>
<line x1="203.40" y1="572.90" x2="312.80" y2="572.90" stroke="#e2303c" stroke-width="1.3" stroke-dasharray="4.2,5.4"/>
<line x1="203.40" y1="579.90" x2="312.80" y2="579.90" stroke="#f2a828" stroke-width="1.3" stroke-dasharray="4.2,5.4"/>
<line x1="203.40" y1="584.30" x2="312.80" y2="584.30" stroke="#b49884" stroke-width="1.3" stroke-dasharray="4.2,5.4"/>
<line x1="203.40" y1="589.40" x2="312.80" y2="589.40" stroke="#20a048" stroke-width="1.3" stroke-dasharray="4.2,5.4"/>
<path d="M89.11,440.50 L90.19,443.36 L91.32,446.22 L92.50,449.08 L93.73,451.94 L95.00,454.80 L96.30,457.66 L97.64,460.52 L99.02,463.37 L100.42,466.23 L101.85,469.09 L103.31,471.95 L104.80,474.81 L106.31,477.67 L107.85,480.53 L109.41,483.39 L110.99,486.25 L112.60,489.11 L114.23,491.97 L115.89,494.83 L117.57,497.69 L119.28,500.55 L121.02,503.41 L122.78,506.26 L124.58,509.12 L126.42,511.98 L128.29,514.84 L130.21,517.70 L132.16,520.56 L134.17,523.42 L136.22,526.28 L138.33,529.14 L140.50,532.00 L142.74,534.86 L145.04,537.72 L147.42,540.58 L149.88,543.44 L152.42,546.29 L155.06,549.15 L157.79,552.01 L160.63,554.87 L163.59,557.73 L166.66,560.59 L169.86,563.45 L173.19,566.31 L176.66,569.17 L180.29,572.03 L184.08,574.89 L188.03,577.75 L192.16,580.61 L196.49,583.47 L201.00,586.33 L205.73,589.18 L210.67,592.04 L215.84,594.90 L221.26,597.76 L226.92,600.62 L232.84,603.48 L239.04,606.34 L245.53,609.20" stroke="#2a66c0" stroke-width="2.1" fill="none"/>
<path d="M100.29,440.50 L101.23,443.36 L102.24,446.22 L103.32,449.08 L104.47,451.94 L105.68,454.80 L106.94,457.66 L108.25,460.52 L109.60,463.37 L110.99,466.23 L112.42,469.09 L113.88,471.95 L115.37,474.81 L116.88,477.67 L118.41,480.53 L119.97,483.39 L121.55,486.25 L123.14,489.11 L124.75,491.97 L126.38,494.83 L128.03,497.69 L129.70,500.55 L131.38,503.41 L133.08,506.26 L134.80,509.12 L136.55,511.98 L138.32,514.84 L140.12,517.70 L141.96,520.56 L143.83,523.42 L145.73,526.28 L147.68,529.14 L149.68,532.00 L151.73,534.86 L153.84,537.72 L156.02,540.58 L158.27,543.44 L160.59,546.29 L163.01,549.15 L165.51,552.01 L168.12,554.87 L170.83,557.73 L173.66,560.59 L176.63,563.45 L179.72,566.31 L182.97,569.17 L186.37,572.03 L189.94,574.89 L193.69,577.75 L197.62,580.61 L201.77,583.47 L206.12,586.33 L210.71,589.18 L215.53,592.04 L220.61,594.90 L225.96,597.76 L231.59,600.62 L237.52,603.48 L243.76,606.34 L250.33,609.20" stroke="#a27ccb" stroke-width="2.1" fill="none"/>
<path d="M111.27,440.50 L112.29,443.36 L113.35,446.22 L114.46,449.08 L115.61,451.94 L116.80,454.80 L118.02,457.66 L119.28,460.52 L120.56,463.37 L121.87,466.23 L123.21,469.09 L124.57,471.95 L125.95,474.81 L127.35,477.67 L128.77,480.53 L130.21,483.39 L131.67,486.25 L133.14,489.11 L134.64,491.97 L136.16,494.83 L137.70,497.69 L139.26,500.55 L140.84,503.41 L142.46,506.26 L144.09,509.12 L145.76,511.98 L147.46,514.84 L149.20,517.70 L150.97,520.56 L152.79,523.42 L154.65,526.28 L156.57,529.14 L158.53,532.00 L160.56,534.86 L162.65,537.72 L164.81,540.58 L167.04,543.44 L169.36,546.29 L171.76,549.15 L174.26,552.01 L176.85,554.87 L179.55,557.73 L182.36,560.59 L185.30,563.45 L188.36,566.31 L191.57,569.17 L194.91,572.03 L198.41,574.89 L202.08,577.75 L205.92,580.61 L209.94,583.47 L214.15,586.33 L218.56,589.18 L223.18,592.04 L228.03,594.90 L233.11,597.76 L238.44,600.62 L244.02,603.48 L249.88,606.34 L256.01,609.20" stroke="#3cc2c2" stroke-width="2.1" fill="none"/>
<path d="M121.89,440.50 L122.92,443.35 L123.99,446.20 L125.10,449.05 L126.23,451.90 L127.40,454.75 L128.59,457.59 L129.80,460.44 L131.04,463.29 L132.30,466.14 L133.57,468.99 L134.87,471.84 L136.18,474.69 L137.51,477.54 L138.85,480.39 L140.21,483.24 L141.58,486.09 L142.98,488.94 L144.39,491.78 L145.81,494.63 L147.26,497.48 L148.73,500.33 L150.22,503.18 L151.74,506.03 L153.28,508.88 L154.86,511.73 L156.46,514.58 L158.11,517.43 L159.79,520.28 L161.51,523.13 L163.28,525.97 L165.11,528.82 L166.98,531.67 L168.92,534.52 L170.93,537.37 L173.00,540.22 L175.15,543.07 L177.38,545.92 L179.70,548.77 L182.11,551.62 L184.63,554.47 L187.25,557.32 L189.98,560.16 L192.84,563.01 L195.83,565.86 L198.96,568.71 L202.23,571.56 L205.65,574.41 L209.24,577.26 L213.00,580.11 L216.94,582.96 L221.07,585.81 L225.40,588.66 L229.95,591.51 L234.71,594.35 L239.70,597.20 L244.94,600.05 L250.43,602.90 L256.18,605.75 L262.21,608.60" stroke="#7a4a48" stroke-width="2.1" fill="none"/>
<line x1="256.00" y1="448.80" x2="291.40" y2="448.80" stroke="#2a66c0" stroke-width="1.9" stroke-linecap="round"/>
<text x="296.1" y="452.8" font-size="12" fill="#231f20"><tspan font-style="italic">t</tspan><tspan font-size="7.5" dy="0.5">1</tspan></text>
<line x1="256.00" y1="467.40" x2="291.40" y2="467.40" stroke="#a27ccb" stroke-width="1.9" stroke-linecap="round"/>
<text x="296.1" y="471.4" font-size="12" fill="#231f20"><tspan font-style="italic">t</tspan><tspan font-size="7.5" dy="0.5">2</tspan></text>
<line x1="256.00" y1="485.50" x2="291.40" y2="485.50" stroke="#3cc2c2" stroke-width="1.9" stroke-linecap="round"/>
<text x="296.1" y="489.5" font-size="12" fill="#231f20"><tspan font-style="italic">t</tspan><tspan font-size="7.5" dy="0.5">3</tspan></text>
<line x1="256.00" y1="504.00" x2="291.40" y2="504.00" stroke="#7a4a48" stroke-width="1.9" stroke-linecap="round"/>
<text x="296.1" y="508.0" font-size="12" fill="#231f20"><tspan font-style="italic">t</tspan><tspan font-size="7.5" dy="0.5">4</tspan></text>
<text x="148.6" y="460.2" font-size="12" text-anchor="start" fill="#2a7ac8" >Increasing <tspan font-style="italic">t</tspan></text>
<rect x="150.60" y="468.55" width="51.40" height="1.30" fill="url(#gArrowT)" stroke="none" stroke-width="1" />
<polygon points="210.9,469.2 200.0,466.4 200.0,472.0" fill="#2a7ac8" />
<text x="315.2" y="571.3" font-size="12.5" fill="#d3202e"><tspan font-style="italic">n</tspan><tspan font-size="7.5" dy="0.5">1</tspan></text>
<text x="315.2" y="579.6" font-size="12.5" fill="#f0a020"><tspan font-style="italic">n</tspan><tspan font-size="7.5" dy="0.5">2</tspan></text>
<text x="315.2" y="588.0" font-size="12.5" fill="#b09a88"><tspan font-style="italic">n</tspan><tspan font-size="7.5" dy="0.5">3</tspan></text>
<text x="315.2" y="596.3" font-size="12.5" fill="#1fa045"><tspan font-style="italic">n</tspan><tspan font-size="7.5" dy="0.5">4</tspan></text>
<rect x="75.70" y="440.80" width="237.10" height="167.70" fill="none" stroke="#4a4a4a" stroke-width="1.2" />
<rect x="75.50" y="618.30" width="237.20" height="167.10" fill="none" stroke="#4a4a4a" stroke-width="1.2" />
<text x="75.7" y="801.2" font-size="12" text-anchor="middle" fill="#231f20" >60</text>
<text x="135.0" y="801.2" font-size="12" text-anchor="middle" fill="#231f20" >65</text>
<line x1="134.98" y1="785.40" x2="134.98" y2="782.90" stroke="#4a4a4a" stroke-width="1" />
<text x="194.2" y="801.2" font-size="12" text-anchor="middle" fill="#231f20" >70</text>
<line x1="194.25" y1="785.40" x2="194.25" y2="782.90" stroke="#4a4a4a" stroke-width="1" />
<text x="253.5" y="801.2" font-size="12" text-anchor="middle" fill="#231f20" >75</text>
<line x1="253.53" y1="785.40" x2="253.53" y2="782.90" stroke="#4a4a4a" stroke-width="1" />
<text x="312.8" y="801.2" font-size="12" text-anchor="middle" fill="#231f20" >80</text>
<text x="70.8" y="632.3" font-size="12" text-anchor="end" fill="#231f20" >540</text>
<line x1="75.50" y1="628.00" x2="78.00" y2="628.00" stroke="#4a4a4a" stroke-width="1" />
<text x="70.8" y="691.4" font-size="12" text-anchor="end" fill="#231f20" >480</text>
<line x1="75.50" y1="687.10" x2="78.00" y2="687.10" stroke="#4a4a4a" stroke-width="1" />
<text x="70.8" y="750.5" font-size="12" text-anchor="end" fill="#231f20" >420</text>
<line x1="75.50" y1="746.20" x2="78.00" y2="746.20" stroke="#4a4a4a" stroke-width="1" />
<text x="0" y="0" transform="translate(42.6,705.0) rotate(-90)" font-size="12" text-anchor="middle" fill="#231f20" >Thickness (nm)</text>
<text x="195.8" y="816.3" font-size="12" text-anchor="middle" fill="#231f20" >Resonant angle (°)</text>
<text x="22.3" y="787.6" font-size="11.8" text-anchor="start" fill="#231f20" >(ii)</text>
<line x1="204.30" y1="675.20" x2="312.70" y2="675.20" stroke="#e2303c" stroke-width="1.3" stroke-dasharray="4.2,5.4"/>
<line x1="204.30" y1="691.00" x2="312.70" y2="691.00" stroke="#f2a828" stroke-width="1.3" stroke-dasharray="4.2,5.4"/>
<line x1="204.30" y1="712.10" x2="312.70" y2="712.10" stroke="#b49884" stroke-width="1.3" stroke-dasharray="4.2,5.4"/>
<line x1="204.30" y1="748.10" x2="312.70" y2="748.10" stroke="#20a048" stroke-width="1.3" stroke-dasharray="4.2,5.4"/>
<text x="315.5" y="679.4" font-size="12" fill="#d3202e"><tspan font-style="italic">t</tspan><tspan font-size="7.5" dy="0.5">4</tspan></text>
<text x="315.5" y="695.0" font-size="12" fill="#f0a020"><tspan font-style="italic">t</tspan><tspan font-size="7.5" dy="0.5">3</tspan></text>
<text x="315.5" y="716.4" font-size="12" fill="#b09a88"><tspan font-style="italic">t</tspan><tspan font-size="7.5" dy="0.5">2</tspan></text>
<text x="315.5" y="752.1" font-size="12" fill="#1fa045"><tspan font-style="italic">t</tspan><tspan font-size="7.5" dy="0.5">1</tspan></text>
<clipPath id="clipDii"><rect x="75.5" y="618.3" width="237.2" height="166.7"/></clipPath><g clip-path="url(#clipDii)">
<path d="M247.86,617.50 L245.65,620.36 L243.44,623.21 L241.23,626.07 L239.02,628.92 L236.81,631.78 L234.60,634.64 L232.39,637.49 L230.18,640.35 L227.97,643.20 L225.77,646.06 L223.56,648.92 L221.36,651.77 L219.15,654.63 L216.95,657.48 L214.74,660.34 L212.54,663.19 L210.34,666.05 L208.13,668.91 L205.93,671.76 L203.73,674.62 L201.53,677.47 L199.33,680.33 L197.13,683.19 L194.93,686.04 L192.73,688.90 L190.54,691.75 L188.34,694.61 L186.14,697.47 L183.95,700.32 L181.75,703.18 L179.56,706.03 L177.36,708.89 L175.17,711.75 L172.97,714.60 L170.78,717.46 L168.59,720.31 L166.40,723.17 L164.21,726.03 L162.02,728.88 L159.83,731.74 L157.64,734.59 L155.45,737.45 L153.26,740.31 L151.07,743.16 L148.88,746.02 L146.70,748.87 L144.51,751.73 L142.33,754.58 L140.14,757.44 L137.96,760.30 L135.77,763.15 L133.59,766.01 L131.41,768.86 L129.22,771.72 L127.04,774.58 L124.86,777.43 L122.68,780.29 L120.50,783.14 L118.32,786.00" stroke="#2a66c0" stroke-width="2.1" fill="none"/>
<path d="M258.00,617.50 L255.74,620.36 L253.50,623.21 L251.28,626.07 L249.08,628.92 L246.89,631.78 L244.72,634.64 L242.57,637.49 L240.43,640.35 L238.30,643.20 L236.19,646.06 L234.09,648.92 L232.01,651.77 L229.93,654.63 L227.87,657.48 L225.82,660.34 L223.78,663.19 L221.75,666.05 L219.72,668.91 L217.71,671.76 L215.70,674.62 L213.70,677.47 L211.70,680.33 L209.71,683.19 L207.73,686.04 L205.75,688.90 L203.77,691.75 L201.80,694.61 L199.83,697.47 L197.86,700.32 L195.89,703.18 L193.93,706.03 L191.96,708.89 L189.99,711.75 L188.02,714.60 L186.05,717.46 L184.07,720.31 L182.10,723.17 L180.12,726.03 L178.13,728.88 L176.14,731.74 L174.14,734.59 L172.14,737.45 L170.13,740.31 L168.11,743.16 L166.08,746.02 L164.04,748.87 L162.00,751.73 L159.94,754.58 L157.87,757.44 L155.79,760.30 L153.70,763.15 L151.60,766.01 L149.48,768.86 L147.35,771.72 L145.20,774.58 L143.04,777.43 L140.86,780.29 L138.67,783.14 L136.46,786.00" stroke="#3fa865" stroke-width="2.1" fill="none"/>
<path d="M269.94,617.50 L267.68,620.36 L265.44,623.21 L263.23,626.07 L261.03,628.92 L258.86,631.78 L256.70,634.64 L254.57,637.49 L252.45,640.35 L250.36,643.20 L248.28,646.06 L246.22,648.92 L244.18,651.77 L242.15,654.63 L240.14,657.48 L238.15,660.34 L236.17,663.19 L234.21,666.05 L232.26,668.91 L230.33,671.76 L228.41,674.62 L226.50,677.47 L224.61,680.33 L222.73,683.19 L220.86,686.04 L219.01,688.90 L217.16,691.75 L215.33,694.61 L213.50,697.47 L211.69,700.32 L209.89,703.18 L208.09,706.03 L206.30,708.89 L204.53,711.75 L202.75,714.60 L200.99,717.46 L199.23,720.31 L197.48,723.17 L195.74,726.03 L194.00,728.88 L192.27,731.74 L190.54,734.59 L188.81,737.45 L187.09,740.31 L185.37,743.16 L183.66,746.02 L181.94,748.87 L180.23,751.73 L178.52,754.58 L176.82,757.44 L175.11,760.30 L173.40,763.15 L171.69,766.01 L169.98,768.86 L168.27,771.72 L166.56,774.58 L164.85,777.43 L163.13,780.29 L161.41,783.14 L159.69,786.00" stroke="#a27ccb" stroke-width="2.1" fill="none"/>
<path d="M285.15,617.50 L282.63,620.36 L280.20,623.21 L277.85,626.07 L275.58,628.92 L273.38,631.78 L271.24,634.64 L269.16,637.49 L267.14,640.35 L265.16,643.20 L263.23,646.06 L261.35,648.92 L259.49,651.77 L257.67,654.63 L255.88,657.48 L254.12,660.34 L252.38,663.19 L250.65,666.05 L248.94,668.91 L247.25,671.76 L245.57,674.62 L243.89,677.47 L242.23,680.33 L240.56,683.19 L238.91,686.04 L237.26,688.90 L235.60,691.75 L233.95,694.61 L232.30,697.47 L230.66,700.32 L229.01,703.18 L227.36,706.03 L225.71,708.89 L224.07,711.75 L222.43,714.60 L220.79,717.46 L219.15,720.31 L217.52,723.17 L215.90,726.03 L214.29,728.88 L212.69,731.74 L211.11,734.59 L209.55,737.45 L208.00,740.31 L206.48,743.16 L204.98,746.02 L203.51,748.87 L202.08,751.73 L200.69,754.58 L199.33,757.44 L198.03,760.30 L196.77,763.15 L195.57,766.01 L194.44,768.86 L193.37,771.72 L192.37,774.58 L191.45,777.43 L190.61,780.29 L189.87,783.14 L189.22,786.00" stroke="#3cc2c2" stroke-width="2.1" fill="none"/>
</g>
<line x1="84.50" y1="625.90" x2="119.90" y2="625.90" stroke="#2a66c0" stroke-width="1.9" stroke-linecap="round"/>
<text x="126" y="629.9" font-size="12" fill="#231f20"><tspan font-style="italic">n</tspan><tspan font-size="7.5" dy="0.5">1</tspan></text>
<line x1="84.50" y1="644.30" x2="119.90" y2="644.30" stroke="#3fa865" stroke-width="1.9" stroke-linecap="round"/>
<text x="126" y="648.3" font-size="12" fill="#231f20"><tspan font-style="italic">n</tspan><tspan font-size="7.5" dy="0.5">2</tspan></text>
<line x1="84.50" y1="662.50" x2="119.90" y2="662.50" stroke="#a27ccb" stroke-width="1.9" stroke-linecap="round"/>
<text x="126" y="666.5" font-size="12" fill="#231f20"><tspan font-style="italic">n</tspan><tspan font-size="7.5" dy="0.5">3</tspan></text>
<line x1="84.50" y1="680.90" x2="119.90" y2="680.90" stroke="#3cc2c2" stroke-width="1.9" stroke-linecap="round"/>
<text x="126" y="684.9" font-size="12" fill="#231f20"><tspan font-style="italic">n</tspan><tspan font-size="7.5" dy="0.5">4</tspan></text>
<text x="83.4" y="725.2" font-size="12" text-anchor="start" fill="#c8102e" >Increasing <tspan font-style="italic">n</tspan></text>
<rect x="83.40" y="733.35" width="52.60" height="1.30" fill="url(#gArrowN)" stroke="none" stroke-width="1" />
<polygon points="144.7,734.0 134.5,731.2 134.5,736.8" fill="#c8102e" />
<line x1="202.90" y1="556.10" x2="202.90" y2="773.70" stroke="#3a3a3a" stroke-width="1.2" />
<path d="M332.7,603.2 Q360,610.2 387.6,610.6 L387.6,608.6 L401.6,613.3 L387.6,618.0 L387.6,615.9 Q360,616.6 332.7,623.1 Q337,613.2 332.7,603.2 Z" fill="url(#gArrowBig)"/>
<text x="409.8" y="379.8" font-size="11.5" text-anchor="start" fill="#231f20" >f</text>
<rect x="450.00" y="383.60" width="22.10" height="162.70" fill="#c9c9c9" stroke="none" stroke-width="1" />
<line x1="462.50" y1="546.30" x2="462.50" y2="543.80" stroke="#231f20" stroke-width="1" />
<text x="462.5" y="559.6" font-size="12" text-anchor="middle" fill="#231f20" >61</text>
<line x1="522.40" y1="546.30" x2="522.40" y2="543.80" stroke="#231f20" stroke-width="1" />
<text x="522.4" y="559.6" font-size="12" text-anchor="middle" fill="#231f20" >62</text>
<line x1="583.10" y1="546.30" x2="583.10" y2="543.80" stroke="#231f20" stroke-width="1" />
<text x="583.1" y="559.6" font-size="12" text-anchor="middle" fill="#231f20" >63</text>
<line x1="643.20" y1="546.30" x2="643.20" y2="543.80" stroke="#231f20" stroke-width="1" />
<text x="643.2" y="559.6" font-size="12" text-anchor="middle" fill="#231f20" >64</text>
<text x="445.5" y="387.9" font-size="12" text-anchor="end" fill="#231f20" >420</text>
<line x1="450.00" y1="421.20" x2="452.50" y2="421.20" stroke="#231f20" stroke-width="1" />
<text x="445.5" y="425.5" font-size="12" text-anchor="end" fill="#231f20" >390</text>
<line x1="450.00" y1="459.10" x2="452.50" y2="459.10" stroke="#231f20" stroke-width="1" />
<text x="445.5" y="463.4" font-size="12" text-anchor="end" fill="#231f20" >360</text>
<line x1="450.00" y1="496.70" x2="452.50" y2="496.70" stroke="#231f20" stroke-width="1" />
<text x="445.5" y="501.0" font-size="12" text-anchor="end" fill="#231f20" >330</text>
<line x1="450.00" y1="534.30" x2="452.50" y2="534.30" stroke="#231f20" stroke-width="1" />
<text x="445.5" y="538.6" font-size="12" text-anchor="end" fill="#231f20" >300</text>
<text x="0" y="0" transform="translate(418.8,468.0) rotate(-90)" font-size="12" text-anchor="middle" fill="#231f20" >Thickness (nm)</text>
<text x="564.0" y="575.6" font-size="12" text-anchor="middle" fill="#231f20" >Resonance angle (°)</text>
<clipPath id="clipF"><rect x="582" y="474.9" width="62.6" height="52.7"/></clipPath>
<radialGradient id="gGlowF" cx="603.5" cy="514" r="20" gradientUnits="userSpaceOnUse" gradientTransform="translate(603.5,514) scale(1.25,0.75) translate(-603.5,-514)"><stop offset="0" stop-color="#f8f060"/><stop offset="0.15" stop-color="#f8c838"/><stop offset="0.4" stop-color="#f06020"/><stop offset="0.75" stop-color="#e42a1c" stop-opacity="0.6"/><stop offset="1" stop-color="#e02020" stop-opacity="0"/></radialGradient>
<linearGradient id="gFleft" x1="0" y1="0" x2="0" y2="1"><stop offset="0" stop-color="#a61c24"/><stop offset="0.45" stop-color="#b41c22"/><stop offset="0.75" stop-color="#d82420"/><stop offset="1" stop-color="#e02a1c"/></linearGradient>
<linearGradient id="gFright" x1="0" y1="0" x2="1" y2="1"><stop offset="0" stop-color="#9c1c24"/><stop offset="0.5" stop-color="#8a1a22"/><stop offset="1" stop-color="#8c1a22"/></linearGradient>
<g clip-path="url(#clipF)">
<rect x="582.00" y="474.90" width="23.50" height="52.70" fill="url(#gFleft)" stroke="none" stroke-width="1" />
<rect x="578.00" y="494.00" width="28.00" height="40.00" fill="url(#gGlowF)" stroke="none" stroke-width="1" />
<rect x="605.50" y="474.90" width="39.10" height="52.70" fill="#b81c24" stroke="none" stroke-width="1" />
<path d="M605.50,514.00 C605.67,513.55 606.00,512.20 606.50,511.30 C607.00,510.40 607.67,509.48 608.50,508.60 C609.33,507.72 610.42,506.77 611.50,506.00 C612.58,505.23 613.70,504.62 615.00,504.00 C616.30,503.38 617.63,502.87 619.30,502.30 C620.97,501.73 622.80,501.17 625.00,500.60 C627.20,500.03 630.33,499.35 632.50,498.90 C634.67,498.45 635.92,498.23 638.00,497.90 C640.08,497.57 643.83,497.07 645.00,496.90 L645,470 L605.5,470 Z" fill="url(#gFright)"/>
<clipPath id="clipFR"><path d="M605.50,514.00 C605.67,513.55 606.00,512.20 606.50,511.30 C607.00,510.40 607.67,509.48 608.50,508.60 C609.33,507.72 610.42,506.77 611.50,506.00 C612.58,505.23 613.70,504.62 615.00,504.00 C616.30,503.38 617.63,502.87 619.30,502.30 C620.97,501.73 622.80,501.17 625.00,500.60 C627.20,500.03 630.33,499.35 632.50,498.90 C634.67,498.45 635.92,498.23 638.00,497.90 C640.08,497.57 643.83,497.07 645.00,496.90 L645,530 L605.5,530 Z"/></clipPath>
<g clip-path="url(#clipFR)">
<path d="M605.50,514.00 C605.67,513.55 606.00,512.20 606.50,511.30 C607.00,510.40 607.67,509.48 608.50,508.60 C609.33,507.72 610.42,506.77 611.50,506.00 C612.58,505.23 613.70,504.62 615.00,504.00 C616.30,503.38 617.63,502.87 619.30,502.30 C620.97,501.73 622.80,501.17 625.00,500.60 C627.20,500.03 630.33,499.35 632.50,498.90 C634.67,498.45 635.92,498.23 638.00,497.90 C640.08,497.57 643.83,497.07 645.00,496.90" stroke="#e42018" stroke-width="14" fill="none" filter="url(#blur2)"/>
<path d="M605.50,514.00 C605.67,513.55 606.00,512.20 606.50,511.30 C607.00,510.40 607.67,509.48 608.50,508.60 C609.33,507.72 610.42,506.77 611.50,506.00 C612.58,505.23 613.70,504.62 615.00,504.00 C616.30,503.38 617.63,502.87 619.30,502.30 C620.97,501.73 622.80,501.17 625.00,500.60 C627.20,500.03 630.33,499.35 632.50,498.90 C634.67,498.45 635.92,498.23 638.00,497.90 C640.08,497.57 643.83,497.07 645.00,496.90" stroke="#f0a030" stroke-width="3.6" fill="none" filter="url(#blur1)"/>
</g>
<path d="M605.50,514.00 C605.67,513.55 606.00,512.20 606.50,511.30 C607.00,510.40 607.67,509.48 608.50,508.60 C609.33,507.72 610.42,506.77 611.50,506.00 C612.58,505.23 613.70,504.62 615.00,504.00 C616.30,503.38 617.63,502.87 619.30,502.30 C620.97,501.73 622.80,501.17 625.00,500.60 C627.20,500.03 630.33,499.35 632.50,498.90 C634.67,498.45 635.92,498.23 638.00,497.90 C640.08,497.57 643.83,497.07 645.00,496.90" stroke="#f07020" stroke-width="3.2" fill="none"/>
<path d="M605.50,514.00 C605.67,513.55 606.00,512.20 606.50,511.30 C607.00,510.40 607.67,509.48 608.50,508.60 C609.33,507.72 610.42,506.77 611.50,506.00 C612.58,505.23 613.70,504.62 615.00,504.00 C616.30,503.38 617.63,502.87 619.30,502.30 C620.97,501.73 622.80,501.17 625.00,500.60 C627.20,500.03 630.33,499.35 632.50,498.90 C634.67,498.45 635.92,498.23 638.00,497.90 C640.08,497.57 643.83,497.07 645.00,496.90" stroke="#f0e040" stroke-width="2.6" fill="none"/>
<path d="M605.50,514.00 C605.67,513.55 606.00,512.20 606.50,511.30 C607.00,510.40 607.67,509.48 608.50,508.60 C609.33,507.72 610.42,506.77 611.50,506.00 C612.58,505.23 613.70,504.62 615.00,504.00 C616.30,503.38 617.63,502.87 619.30,502.30 C620.97,501.73 622.80,501.17 625.00,500.60 C627.20,500.03 630.33,499.35 632.50,498.90 C634.67,498.45 635.92,498.23 638.00,497.90 C640.08,497.57 643.83,497.07 645.00,496.90" stroke="#50c0e0" stroke-width="1.9" fill="none"/>
<path d="M605.50,514.00 C605.67,513.55 606.00,512.20 606.50,511.30 C607.00,510.40 607.67,509.48 608.50,508.60 C609.33,507.72 610.42,506.77 611.50,506.00 C612.58,505.23 613.70,504.62 615.00,504.00 C616.30,503.38 617.63,502.87 619.30,502.30 C620.97,501.73 622.80,501.17 625.00,500.60 C627.20,500.03 630.33,499.35 632.50,498.90 C634.67,498.45 635.92,498.23 638.00,497.90 C640.08,497.57 643.83,497.07 645.00,496.90" stroke="#1048a8" stroke-width="1.0" fill="none"/>
</g>
<line x1="605.50" y1="474.90" x2="605.50" y2="527.60" stroke="#ffffff" stroke-width="0.9" stroke-dasharray="1.6,1.3"/>
<rect x="644.60" y="474.90" width="2.40" height="52.70" fill="url(#gJet)" stroke="none" stroke-width="1" />
<text x="641.7" y="473.4" font-size="11.5" text-anchor="start" fill="#231f20" font-style="italic">R</text>
<text x="650.0" y="484.4" font-size="11.5" text-anchor="start" fill="#d01f32" >1</text>
<text x="649.8" y="527.6" font-size="11.5" text-anchor="start" fill="#2a84d0" >0</text>
<rect x="464.10" y="504.80" width="16.40" height="29.70" fill="none" stroke="#444" stroke-width="1.15" stroke-dasharray="1.5,1.5"/>
<path d="M472.30,524.90 C472.63,523.58 473.43,519.40 474.30,517.00 C475.17,514.60 476.40,512.28 477.50,510.50 C478.60,508.72 478.82,508.42 480.90,506.30 C482.98,504.18 487.12,500.15 490.00,497.80 C492.88,495.45 494.87,494.30 498.20,492.20 C501.53,490.10 505.97,487.45 510.00,485.20 C514.03,482.95 516.35,481.87 522.40,478.70 C528.45,475.53 538.23,470.08 546.30,466.20 C554.37,462.32 562.67,458.83 570.80,455.40 C578.93,451.97 587.02,448.80 595.10,445.60 C603.18,442.40 611.23,439.27 619.30,436.20 C627.37,433.13 635.27,430.05 643.50,427.20 C651.73,424.35 664.50,420.45 668.70,419.10" stroke="#ea6464" stroke-width="1.9" fill="none"/>
<circle cx="474.1" cy="512.8" r="3.6" fill="url(#gSphere)"/>
<circle cx="498.2" cy="490.3" r="3.6" fill="url(#gSphere)"/>
<circle cx="522.4" cy="476.6" r="3.6" fill="url(#gSphere)"/>
<circle cx="546.5" cy="464.6" r="3.6" fill="url(#gSphere)"/>
<circle cx="570.8" cy="454.0" r="3.6" fill="url(#gSphere)"/>
<circle cx="595.1" cy="443.3" r="3.6" fill="url(#gSphere)"/>
<circle cx="619.3" cy="433.2" r="3.6" fill="url(#gSphere)"/>
<circle cx="643.5" cy="423.9" r="3.6" fill="url(#gSphere)"/>
<circle cx="667.6" cy="414.5" r="3.6" fill="url(#gSphere)"/>
<line x1="478.80" y1="398.10" x2="506.00" y2="398.10" stroke="#ea6464" stroke-width="1.8" />
<text x="508.6" y="402.3" font-size="12" text-anchor="start" fill="#231f20" >Transfer Matrix</text>
<circle cx="492.5" cy="417.4" r="3.6" fill="url(#gSphere)"/>
<text x="508.6" y="421.8" font-size="12" text-anchor="start" fill="#231f20" >Guided Wave Model</text>
<rect x="450.00" y="383.60" width="223.90" height="162.70" fill="none" stroke="#231f20" stroke-width="1.1" />
<text x="404.0" y="590.4" font-size="11.5" text-anchor="start" fill="#231f20" >e</text>
<line x1="441.40" y1="606.00" x2="443.90" y2="606.00" stroke="#231f20" stroke-width="1" />
<text x="437.7" y="610.3" font-size="12" text-anchor="end" fill="#231f20" >480</text>
<line x1="441.40" y1="654.60" x2="443.90" y2="654.60" stroke="#231f20" stroke-width="1" />
<text x="437.7" y="658.9" font-size="12" text-anchor="end" fill="#231f20" >450</text>
<line x1="441.40" y1="703.60" x2="443.90" y2="703.60" stroke="#231f20" stroke-width="1" />
<text x="437.7" y="707.9" font-size="12" text-anchor="end" fill="#231f20" >420</text>
<line x1="441.40" y1="752.50" x2="443.90" y2="752.50" stroke="#231f20" stroke-width="1" />
<text x="437.7" y="756.8" font-size="12" text-anchor="end" fill="#231f20" >390</text>
<text x="440.2" y="800.6" font-size="12" text-anchor="middle" fill="#231f20" >1.33</text>
<line x1="549.60" y1="784.60" x2="549.60" y2="782.10" stroke="#231f20" stroke-width="1" />
<text x="548.4" y="800.6" font-size="12" text-anchor="middle" fill="#231f20" >1.37</text>
<line x1="656.80" y1="784.60" x2="656.80" y2="782.10" stroke="#231f20" stroke-width="1" />
<text x="655.6" y="800.6" font-size="12" text-anchor="middle" fill="#231f20" >1.41</text>
<text x="565.6" y="815.6" font-size="12" text-anchor="middle" fill="#231f20" >Refractive index</text>
<text x="0" y="0" transform="translate(411.5,686.4) rotate(-90)" font-size="12" text-anchor="middle" fill="#231f20" >Thickness (nm)</text>
<path d="M441.40,606.10 C445.78,607.48 458.68,611.40 467.70,614.40 C476.72,617.40 486.25,620.63 495.50,624.10 C504.75,627.57 513.95,631.27 523.20,635.20 C532.45,639.13 541.75,643.30 551.00,647.70 C560.25,652.10 569.47,656.75 578.70,661.60 C587.93,666.45 597.85,672.18 606.40,676.80 C614.95,681.42 623.67,685.48 630.00,689.30 C636.33,693.12 640.17,696.33 644.40,699.70 C648.63,703.07 651.93,706.13 655.40,709.50 C658.87,712.87 662.13,716.55 665.20,719.90 C668.27,723.25 671.77,726.97 673.80,729.60 C675.83,732.23 676.38,734.07 677.40,735.70 C678.42,737.33 678.83,738.12 679.90,739.40 C680.97,740.68 683.15,742.73 683.80,743.40" stroke="#0b5c9e" stroke-width="2.7" fill="none"/>
<line x1="515.50" y1="611.20" x2="551.00" y2="611.20" stroke="#0b5c9e" stroke-width="2.7" />
<text x="560.6" y="615.7" font-size="12" text-anchor="start" fill="#231f20" >Fixed incident angle</text>
<line x1="477.30" y1="755.00" x2="477.30" y2="686.50" stroke="#333" stroke-width="0.9" />
<polygon points="477.3,681.8 475.6,687.6 479.0,687.6" fill="#333" />
<line x1="477.30" y1="755.00" x2="602.00" y2="755.00" stroke="#333" stroke-width="0.9" />
<polygon points="606.6,755.0 600.8,753.3 600.8,756.7" fill="#333" />
<line x1="477.30" y1="711.40" x2="479.60" y2="711.40" stroke="#333" stroke-width="0.9" />
<text x="475.0" y="714.8" font-size="10" text-anchor="end" fill="#231f20" >0.5</text>
<text x="475.0" y="755.0" font-size="10" text-anchor="end" fill="#231f20" >0.0</text>
<text x="485.7" y="764.4" font-size="10" text-anchor="middle" fill="#231f20" >310</text>
<text x="588.4" y="764.4" font-size="10" text-anchor="middle" fill="#231f20" >430</text>
<line x1="485.70" y1="754.40" x2="485.70" y2="752.00" stroke="#333" stroke-width="0.9" />
<line x1="588.40" y1="754.40" x2="588.40" y2="752.00" stroke="#333" stroke-width="0.9" />
<text x="538.5" y="772.6" font-size="10.2" text-anchor="middle" fill="#231f20" >Thickness (nm)</text>
<text x="0" y="0" transform="translate(458.8,720.5) rotate(-90)" font-size="10" text-anchor="middle" fill="#231f20" >Reflectivity</text>
<text x="504.6" y="679.4" font-size="10.2" text-anchor="start" fill="#231f20" >Increasing <tspan font-style="italic">n</tspan></text>
<line x1="505.00" y1="684.40" x2="561.70" y2="684.40" stroke="#333" stroke-width="0.9" />
<polygon points="500.6,684.4 506.4,682.6 506.4,686.2" fill="#333" />
<path d="M477.30,691.00 C484.45,691.17 511.05,691.70 520.20,692.00 C529.35,692.30 529.08,692.33 532.20,692.80 C535.32,693.27 536.93,693.73 538.90,694.80 C540.87,695.87 542.63,696.75 544.00,699.20 C545.37,701.65 546.33,705.70 547.10,709.50 C547.87,713.30 548.18,716.92 548.60,722.00 C549.02,727.08 549.33,734.73 549.60,740.00 C549.87,745.27 550.02,753.27 550.20,753.60 C550.38,753.93 550.53,746.27 550.70,742.00 C550.87,737.73 550.98,734.00 551.20,728.00 C551.42,722.00 551.75,711.83 552.00,706.00 C552.25,700.17 552.43,695.92 552.70,693.00 C552.97,690.08 553.10,689.55 553.60,688.50 C554.10,687.45 554.77,686.92 555.70,686.70 C556.63,686.48 556.95,686.95 559.20,687.20 C561.45,687.45 564.87,687.90 569.20,688.20 C573.53,688.50 579.15,688.73 585.20,689.00 C591.25,689.27 602.12,689.67 605.50,689.80" stroke="#8078b0" stroke-width="1.1" fill="none"/>
<path d="M477.30,691.00 C483.08,691.17 504.22,691.70 512.00,692.00 C519.78,692.30 520.88,692.33 524.00,692.80 C527.12,693.27 528.73,693.73 530.70,694.80 C532.67,695.87 534.43,696.75 535.80,699.20 C537.17,701.65 538.13,705.70 538.90,709.50 C539.67,713.30 539.98,716.92 540.40,722.00 C540.82,727.08 541.13,734.73 541.40,740.00 C541.67,745.27 541.82,753.27 542.00,753.60 C542.18,753.93 542.33,746.27 542.50,742.00 C542.67,737.73 542.78,734.00 543.00,728.00 C543.22,722.00 543.55,711.83 543.80,706.00 C544.05,700.17 544.23,695.92 544.50,693.00 C544.77,690.08 544.90,689.55 545.40,688.50 C545.90,687.45 546.57,686.92 547.50,686.70 C548.43,686.48 548.75,686.95 551.00,687.20 C553.25,687.45 556.67,687.90 561.00,688.20 C565.33,688.50 569.58,688.73 577.00,689.00 C584.42,689.27 600.75,689.67 605.50,689.80" stroke="#e0303a" stroke-width="1.1" fill="none"/>
<path d="M477.30,691.00 C481.38,691.17 495.72,691.70 501.80,692.00 C507.88,692.30 510.68,692.33 513.80,692.80 C516.92,693.27 518.53,693.73 520.50,694.80 C522.47,695.87 524.23,696.75 525.60,699.20 C526.97,701.65 527.93,705.70 528.70,709.50 C529.47,713.30 529.78,716.92 530.20,722.00 C530.62,727.08 530.93,734.73 531.20,740.00 C531.47,745.27 531.62,753.27 531.80,753.60 C531.98,753.93 532.13,746.27 532.30,742.00 C532.47,737.73 532.58,734.00 532.80,728.00 C533.02,722.00 533.35,711.83 533.60,706.00 C533.85,700.17 534.03,695.92 534.30,693.00 C534.57,690.08 534.70,689.55 535.20,688.50 C535.70,687.45 536.37,686.92 537.30,686.70 C538.23,686.48 538.55,686.95 540.80,687.20 C543.05,687.45 546.47,687.90 550.80,688.20 C555.13,688.50 557.68,688.73 566.80,689.00 C575.92,689.27 599.05,689.67 605.50,689.80" stroke="#5584c8" stroke-width="1.1" fill="none"/>
<path d="M477.30,691.00 C478.83,691.17 482.97,691.70 486.50,692.00 C490.03,692.30 495.38,692.33 498.50,692.80 C501.62,693.27 503.23,693.73 505.20,694.80 C507.17,695.87 508.93,696.75 510.30,699.20 C511.67,701.65 512.63,705.70 513.40,709.50 C514.17,713.30 514.48,716.92 514.90,722.00 C515.32,727.08 515.63,734.73 515.90,740.00 C516.17,745.27 516.32,753.27 516.50,753.60 C516.68,753.93 516.83,746.27 517.00,742.00 C517.17,737.73 517.28,734.00 517.50,728.00 C517.72,722.00 518.05,711.83 518.30,706.00 C518.55,700.17 518.73,695.92 519.00,693.00 C519.27,690.08 519.40,689.55 519.90,688.50 C520.40,687.45 521.07,686.92 522.00,686.70 C522.93,686.48 523.25,686.95 525.50,687.20 C527.75,687.45 531.17,687.90 535.50,688.20 C539.83,688.50 539.83,688.73 551.50,689.00 C563.17,689.27 596.50,689.67 605.50,689.80" stroke="#f0a24c" stroke-width="1.1" fill="none"/>
<text x="585.0" y="702.2" font-size="10.5" font-style="italic" fill="#231f20">n</text>
<line x1="559.20" y1="710.70" x2="574.00" y2="710.70" stroke="#8078b0" stroke-width="1.1" />
<text x="577.6" y="714.3" font-size="10.5" text-anchor="start" fill="#231f20" >1.33</text>
<line x1="559.20" y1="721.30" x2="574.00" y2="721.30" stroke="#e0303a" stroke-width="1.1" />
<text x="577.6" y="724.9" font-size="10.5" text-anchor="start" fill="#231f20" >1.34</text>
<line x1="559.20" y1="732.00" x2="574.00" y2="732.00" stroke="#5584c8" stroke-width="1.1" />
<text x="577.6" y="735.6" font-size="10.5" text-anchor="start" fill="#231f20" >1.35</text>
<line x1="559.20" y1="742.90" x2="574.00" y2="742.90" stroke="#f0a24c" stroke-width="1.1" />
<text x="577.6" y="746.5" font-size="10.5" text-anchor="start" fill="#231f20" >1.36</text>
<rect x="441.40" y="589.80" width="242.20" height="194.80" fill="none" stroke="#231f20" stroke-width="1.1" />
</svg></body></html>
